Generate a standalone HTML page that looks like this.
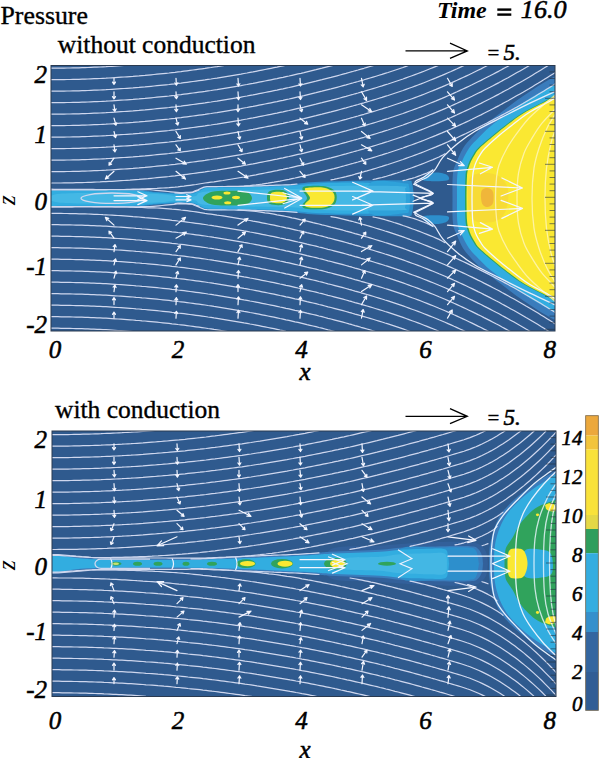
<!DOCTYPE html>
<html><head><meta charset="utf-8"><style>
html,body{margin:0;padding:0;background:#fff;width:600px;height:758px;overflow:hidden}
svg{display:block}
text{font-family:"Liberation Serif",serif;fill:#000}
</style></head><body>
<svg width="600" height="758" viewBox="0 0 600 758">
<text x="0.5" y="24.3" font-size="25.8" text-anchor="start" style=""  stroke="#000" stroke-width="0.35">Pressure</text>
<text x="57.8" y="53.4" font-size="25.5" text-anchor="start" style=""  stroke="#000" stroke-width="0.35">without conduction</text>
<text x="437" y="18.4" font-size="24" text-anchor="start" style="font-style:italic;font-weight:bold;" >Time</text>
<rect x="497.3" y="8.4" width="14" height="2.4" fill="#000"/><rect x="497.3" y="13.4" width="14" height="2.4" fill="#000"/>
<text x="520.8" y="18.4" font-size="26.2" text-anchor="start" style="font-style:italic;"  stroke="#000" stroke-width="0.55">16.0</text>
<clipPath id="c1"><rect x="51" y="65.5" width="504" height="265.5"/></clipPath>
<rect x="51" y="65.5" width="504" height="265.5" fill="#2f5a8e"/>
<g clip-path="url(#c1)">
<path d="M40 189.2C43.3 186.3 45 189.6 60 189.7C75 189.8 114.2 189.4 130 189.7C145.8 190 146.7 191.1 155 191.7C163.3 192.3 173.8 193 180 193.2C186.2 193.4 188.3 193.5 192 192.7C195.7 191.9 199 189.3 202 188.2C205 187.1 202 186.6 210 186.2C218 185.8 236.7 186 250 185.7C263.3 185.4 278.3 184.9 290 184.2C301.7 183.5 306.3 182.3 320 181.7C333.7 181.1 357.5 180.6 372 180.4C386.5 180.2 400.3 179.9 407 180.4C413.7 180.9 410.8 180.2 412 183.2C413.2 186.2 413.7 195.7 414 198.2C414.3 200.7 414.3 195.7 414 198.2C413.7 200.7 413.2 210.2 412 213.2C410.8 216.2 413.7 215.5 407 216C400.3 216.5 386.5 216.2 372 216C357.5 215.8 333.7 215.3 320 214.7C306.3 214.1 301.7 212.9 290 212.2C278.3 211.5 263.3 211 250 210.7C236.7 210.4 218 210.6 210 210.2C202 209.8 205 209.3 202 208.2C199 207.1 195.7 204.5 192 203.7C188.3 202.9 186.2 203 180 203.2C173.8 203.4 163.3 204.1 155 204.7C146.7 205.3 145.8 206.4 130 206.7C114.2 207 75 206.6 60 206.7C45 206.8 43.3 210.1 40 207.2C36.7 204.3 36.7 192.1 40 189.2Z" fill="#2d8fcc" />
<path d="M40 190.2C43.3 187.6 45 190.6 60 190.7C75 190.8 114.2 190.4 130 190.7C145.8 191 146.7 192.1 155 192.7C163.3 193.3 173.8 194.2 180 194.4C186.2 194.6 188.3 194.8 192 194C195.7 193.2 199 190.8 202 189.7C205 188.6 202 188.1 210 187.7C218 187.3 236.7 187.5 250 187.2C263.3 186.9 278.3 186.4 290 185.7C301.7 185 307.5 183.7 320 183.2C332.5 182.7 356.3 182.4 365 182.7C373.7 183 370.5 182.6 372 185.2C373.5 187.8 373.7 196 374 198.2C374.3 200.4 374.3 196 374 198.2C373.7 200.4 373.5 208.6 372 211.2C370.5 213.8 373.7 213.4 365 213.7C356.3 214 332.5 213.7 320 213.2C307.5 212.7 301.7 211.4 290 210.7C278.3 210 263.3 209.5 250 209.2C236.7 208.9 218 209.1 210 208.7C202 208.3 205 207.8 202 206.7C199 205.6 195.7 203.2 192 202.4C188.3 201.6 186.2 201.8 180 202C173.8 202.2 163.3 203.1 155 203.7C146.7 204.3 145.8 205.4 130 205.7C114.2 206 75 205.6 60 205.7C45 205.8 43.3 208.8 40 206.2C36.7 203.6 36.7 192.8 40 190.2Z" fill="#32ade0" />
<path d="M370 183.2C375.7 178.2 397.5 182.7 404 183.2C410.5 183.7 408 183.7 409 186.2C410 188.7 409.8 196.2 410 198.2C410.2 200.2 410.2 196.2 410 198.2C409.8 200.2 410 207.7 409 210.2C408 212.7 410.5 212.7 404 213.2C397.5 213.7 375.7 218.2 370 213.2C364.3 208.2 364.3 188.2 370 183.2Z" fill="#2ea2da" />
<path d="M60 193.7C75 192.2 130 193.2 150 193.7C170 194.2 172.5 196.3 180 196.7C187.5 197.1 190 197.1 195 196.2C200 195.3 192.5 192.4 210 191.2C227.5 189.9 280 189.5 300 188.7C320 187.9 313.3 186.6 330 186.2C346.7 185.8 387.5 185.7 400 186.2C412.5 186.7 404 187.2 405 189.2C406 191.2 405.8 196.7 406 198.2C406.2 199.7 406.2 196.7 406 198.2C405.8 199.7 406 205.2 405 207.2C404 209.2 412.5 209.7 400 210.2C387.5 210.7 346.7 210.6 330 210.2C313.3 209.8 320 208.5 300 207.7C280 206.9 227.5 206.4 210 205.2C192.5 203.9 200 201.1 195 200.2C190 199.3 187.5 199.3 180 199.7C172.5 200.1 170 202.2 150 202.7C130 203.2 75 204.2 60 202.7C45 201.2 45 195.2 60 193.7Z" fill="#5cc6ec" opacity="0.45"/>
<path d="M424 180.5C420.5 179.6 423.8 176.3 426 175C428.2 173.7 433.5 172.5 437 172.5C440.5 172.5 445.3 173.7 447 175C448.7 176.3 450.8 179.6 447 180.5C443.2 181.4 427.5 181.4 424 180.5Z" fill="#2d8fcc"/>
<path d="M424 215.9C420.5 216.8 423.8 220.1 426 221.4C428.2 222.7 433.5 223.9 437 223.9C440.5 223.9 445.3 222.7 447 221.4C448.7 220.1 450.8 216.8 447 215.9C443.2 215 427.5 215 424 215.9Z" fill="#2d8fcc"/>
<path d="M203 198.2C203 196.1 207.5 193 212 191.8C216.5 190.6 224.3 190.8 230 190.8C235.7 190.8 242.3 190.6 246 191.8C249.7 193 252 196.1 252 198.2C252 200.3 249.7 203.4 246 204.6C242.3 205.8 235.7 205.6 230 205.6C224.3 205.6 216.5 205.8 212 204.6C207.5 203.4 203 200.3 203 198.2Z" fill="#30a35c"/>
<ellipse cx="217" cy="197.5" rx="5.5" ry="2" fill="#fae832"/>
<ellipse cx="227" cy="193" rx="3.5" ry="1.5" fill="#fae832"/>
<ellipse cx="227.7" cy="202.7" rx="3.5" ry="1.5" fill="#fae832"/>
<ellipse cx="236" cy="197.5" rx="4" ry="1.7" fill="#fae832"/>
<path d="M267 197.5C267 195.3 267.2 192.2 270 191C272.8 189.8 280.8 189.4 284 190.5C287.2 191.6 289 195.2 289 197.5C289 199.8 287.2 203.4 284 204.5C280.8 205.6 272.8 205.2 270 204C267.2 202.8 267 199.7 267 197.5Z" fill="#30a35c"/>
<path d="M270 197.5C270 195.8 269.8 193.4 272 192.5C274.2 191.6 280.5 191.5 283 192.3C285.5 193.1 287 195.8 287 197.5C287 199.2 285.5 202 283 202.8C280.5 203.6 274.2 203.4 272 202.5C269.8 201.6 270 199.2 270 197.5Z" fill="#fae832"/>
<path d="M302.5 190C302.3 188.1 302.2 186.9 306 186.3C309.8 185.7 320.1 185.4 325 186.3C329.9 187.2 333.8 189.2 335.5 192C337.2 194.8 337.1 200.2 335.5 203C333.9 205.8 330.9 207.8 326 208.7C321.1 209.6 309.9 209.3 306 208.7C302.1 208.1 302.3 206.8 302.5 205C302.7 203.2 307 200.5 307 198C307 195.5 302.7 191.9 302.5 190Z" fill="#30a35c"/>
<path d="M305 190C304.7 188.3 304.8 188.2 308 187.8C311.2 187.4 319.8 186.9 324 187.8C328.2 188.7 331.9 190.6 333.5 193C335.1 195.4 334.9 199.6 333.5 202C332.1 204.4 329.2 206.4 325 207.3C320.8 208.2 311.3 207.9 308 207.3C304.7 206.8 304.7 205.6 305 204C305.3 202.4 310 200.3 310 198C310 195.7 305.3 191.7 305 190Z" fill="#fae832"/>
<path d="M600 73.2C594.3 73.2 574.7 72 566 73.2C557.3 74.4 555.7 76 548 80.2C540.3 84.4 528 92.7 520 98.2C512 103.7 506.2 108.4 500 113.2C493.8 117.9 487.7 122.7 483 126.7C478.3 130.7 475.3 133.6 472 137.2C468.7 140.8 465.5 144.2 463 148.2C460.5 152.2 458.7 157 457 161.2C455.3 165.4 453.8 167 453 173.2C452.2 179.4 452.5 189.9 452.5 198.2C452.5 206.5 452.2 217 453 223.2C453.8 229.4 455.3 231 457 235.2C458.7 239.4 460.5 244.2 463 248.2C465.5 252.2 468.7 255.6 472 259.2C475.3 262.8 478.3 265.7 483 269.7C487.7 273.7 493.8 278.4 500 283.2C506.2 287.9 512 292.7 520 298.2C528 303.7 540.3 312 548 316.2C555.7 320.4 557.3 322 566 323.2C574.7 324.4 594.3 323.2 600 323.2Z" fill="#3a7cbc" />
<path d="M600 78.2C594.3 78.2 573.8 77 566 78.2C558.2 79.4 559 81.9 553 85.2C547 88.5 537.5 93.5 530 98.2C522.5 102.9 514.7 108.4 508 113.2C501.3 117.9 494.8 122.7 490 126.7C485.2 130.7 482.5 133.6 479 137.2C475.5 140.8 471.8 144.2 469 148.2C466.2 152.2 463.9 157 462 161.2C460.1 165.4 458.3 167 457.5 173.2C456.7 179.4 457 189.9 457 198.2C457 206.5 456.7 217 457.5 223.2C458.3 229.4 460.1 231 462 235.2C463.9 239.4 466.2 244.2 469 248.2C471.8 252.2 475.5 255.6 479 259.2C482.5 262.8 485.2 265.7 490 269.7C494.8 273.7 501.3 278.4 508 283.2C514.7 287.9 522.5 293.5 530 298.2C537.5 302.9 547 307.9 553 311.2C559 314.5 558.2 317 566 318.2C573.8 319.4 594.3 318.2 600 318.2Z" fill="#32ade0" />
<path d="M600 90.2C594.3 90.2 573.6 89.4 566 90.2C558.4 91 557.8 93.5 554.5 95.2C551.2 96.9 551.9 97.2 546.5 100.2C541.1 103.2 529.2 108.8 522 113.2C514.8 117.6 508.8 122.7 503.5 126.7C498.2 130.7 494.8 133.6 490.5 137.2C486.2 140.8 480.8 145.4 478 148.2C475.2 151 474.9 152 473.5 154.2C472.1 156.4 470.6 158.9 469.5 161.2C468.4 163.5 467.7 165.7 467 168.2C466.3 170.7 465.8 171.2 465.5 176.2C465.2 181.2 465 190.9 465 198.2C465 205.5 465.2 215.2 465.5 220.2C465.8 225.2 466.3 225.7 467 228.2C467.7 230.7 468.4 232.9 469.5 235.2C470.6 237.5 472.1 240 473.5 242.2C474.9 244.4 475.2 245.4 478 248.2C480.8 251 486.2 255.6 490.5 259.2C494.8 262.8 498.2 265.7 503.5 269.7C508.8 273.7 514.8 278.8 522 283.2C529.2 287.6 541.1 293.2 546.5 296.2C551.9 299.2 551.2 299.5 554.5 301.2C557.8 302.9 558.4 305.4 566 306.2C573.6 307 594.3 306.2 600 306.2Z" fill="#30a35c" />
<path d="M600 90.2C594.3 90.2 573.3 89.4 566 90.2C558.7 91 559 93.5 556 95.2C553 96.9 553.4 97.2 548 100.2C542.6 103.2 530.7 108.8 523.5 113.2C516.3 117.6 510.2 122.7 505 126.7C499.8 130.7 496.2 133.6 492 137.2C487.8 140.8 482.3 145.4 479.5 148.2C476.7 151 476.4 152 475 154.2C473.6 156.4 472.1 158.9 471 161.2C469.9 163.5 469.2 165.7 468.5 168.2C467.8 170.7 467.3 171.2 467 176.2C466.7 181.2 466.5 190.9 466.5 198.2C466.5 205.5 466.7 215.2 467 220.2C467.3 225.2 467.8 225.7 468.5 228.2C469.2 230.7 469.9 232.9 471 235.2C472.1 237.5 473.6 240 475 242.2C476.4 244.4 476.7 245.4 479.5 248.2C482.3 251 487.8 255.6 492 259.2C496.2 262.8 499.8 265.7 505 269.7C510.2 273.7 516.3 278.8 523.5 283.2C530.7 287.6 542.6 293.2 548 296.2C553.4 299.2 553 299.5 556 301.2C559 302.9 558.7 305.4 566 306.2C573.3 307 594.3 306.2 600 306.2Z" fill="#fae832" />
<path d="M470 178C472.8 173.8 480 173.2 485 173C490 172.8 496.2 174.2 500 177C503.8 179.8 507 184.5 508 190C509 195.5 508 204.8 506 210C504 215.2 500.7 219 496 221C491.3 223 482.3 223 478 222C473.7 221 471.7 219 470 215C468.3 211 468 204.2 468 198C468 191.8 467.2 182.2 470 178Z" fill="#f4cf3a" opacity="0.55"/>
<path d="M482 190C483.2 188.3 486.2 187.7 488 188C489.8 188.3 492.2 189.5 493 192C493.8 194.5 493.8 200.5 493 203C492.2 205.5 489.7 206.7 488 207C486.3 207.3 484.2 206.5 483 205C481.8 203.5 481.2 200.5 481 198C480.8 195.5 480.8 191.7 482 190Z" fill="#eca63c" opacity="0.7"/>
<path d="M403 180.6L406 180L409 179.2L412 178.4L415 177.5L418 176.4L421 175.3L424 174.1L427 173L430 171.5L433 169.8M403 215.8L406 216.4L409 217.2L412 218L415 218.9L418 220L421 221.1L424 222.3L427 223.4L430 224.9L433 226.6M373 179.5L376 178.9L379 178.2L382 177.5L385 176.7L388 175.8L391 174.9L394 173.9L397 173L400 172L403 170.9L406 169.9L409 168.8L412 167.7L415 166.6L418 165.5L421 164.4L424 163.2L427 162L430 160.8L433 159.6L436 158.3L439 157L442 155.4L445 153.7M373 216.9L376 217.5L379 218.2L382 218.9L385 219.7L388 220.6L391 221.5L394 222.5L397 223.4L400 224.4L403 225.5L406 226.5L409 227.6L412 228.7L415 229.8L418 230.9L421 232L424 233.2L427 234.4L430 235.6L433 236.8L436 238.1L439 239.4L442 241L445 242.7M331 179.8L334 179.3L337 178.7L340 178L343 177.3L346 176.6L349 175.8L352 175.1L355 174.2L358 173.4L361 172.6L364 171.7L367 170.9L370 170L373 169.1L376 168.2L379 167.3L382 166.4L385 165.4L388 164.5L391 163.5L394 162.5L397 161.5L400 160.5L403 159.5L406 158.4L409 157.3L412 156.2L415 155.1L418 154L421 152.9L424 151.7L427 150.5L430 149.3L433 148.1L436 146.9L439 145.6L442 144.4L445 143.1L448 141.8L451 140.4L454 139.1L457 137.7L460 136.3L463 134.9L466 133.5L469 132L472 130.5L475 129L478 127.5L481 126L484 124.5L487 123L490 121.4L493 119.9L496 118.3L499 116.7L502 115.1L505 113.5L508 111.9L511 110.2L514 108.6L517 106.9L520 105.2L523 103.5L526 101.7L529 100L532 98.2L535 96.4L538 94.6L541 92.8L544 91L547 89.1L550 87.2L553 85.3L556 83.4M331 216.6L334 217.1L337 217.7L340 218.4L343 219.1L346 219.8L349 220.6L352 221.3L355 222.2L358 223L361 223.8L364 224.7L367 225.5L370 226.4L373 227.3L376 228.2L379 229.1L382 230L385 231L388 231.9L391 232.9L394 233.9L397 234.9L400 235.9L403 236.9L406 238L409 239.1L412 240.2L415 241.3L418 242.4L421 243.5L424 244.7L427 245.9L430 247.1L433 248.3L436 249.5L439 250.8L442 252L445 253.3L448 254.6L451 256L454 257.3L457 258.7L460 260.1L463 261.5L466 262.9L469 264.4L472 265.9L475 267.4L478 268.9L481 270.4L484 271.9L487 273.4L490 275L493 276.5L496 278.1L499 279.7L502 281.3L505 282.9L508 284.5L511 286.2L514 287.8L517 289.5L520 291.2L523 292.9L526 294.7L529 296.4L532 298.2L535 300L538 301.8L541 303.6L544 305.4L547 307.3L550 309.2L553 311.1L556 313M175 192.9L178 193.2L181 193.3L184 193.1L187 192.9L190 192.8L193 192.3L196 191.1L199 190M175 203.5L178 203.2L181 203.1L184 203.3L187 203.5L190 203.6L193 204.1L196 205.3L199 206.4M238 186.5L241 186.3L244 186.1L247 185.8L250 185.6L253 185.2L256 184.9L259 184.5L262 184.1L265 183.6L268 183.2L271 182.7L274 182.2L277 181.6L280 181.1L283 180.5L286 179.9L289 179.3L292 178.6L295 178L298 177.3L301 176.6L304 176L307 175.3L310 174.6L313 173.8L316 173.1L319 172.4L322 171.6L325 170.9L328 170.1L331 169.3L334 168.6L337 167.8L340 167L343 166.2L346 165.3L349 164.5L352 163.7L355 162.8L358 162L361 161.1L364 160.3L367 159.4L370 158.5L373 157.6L376 156.7L379 155.8L382 154.9L385 153.9L388 153L391 152L394 151L397 150L400 149L403 148L406 146.9L409 145.8L412 144.7L415 143.6L418 142.5L421 141.4L424 140.2L427 139L430 137.8L433 136.6L436 135.4L439 134.1L442 132.9L445 131.6L448 130.3L451 129L454 127.6L457 126.3L460 124.9L463 123.5L466 122.1L469 120.7L472 119.3L475 117.8L478 116.3L481 114.9L484 113.3L487 111.8L490 110.3L493 108.7L496 107.1L499 105.6L502 103.9L505 102.3L508 100.7L511 99L514 97.3L517 95.6L520 93.9L523 92.2L526 90.4L529 88.7L532 86.9L535 85.1L538 83.3L541 81.4L544 79.6L547 77.7L550 75.8L553 73.9L556 72M238 209.9L241 210.1L244 210.3L247 210.6L250 210.8L253 211.2L256 211.5L259 211.9L262 212.3L265 212.8L268 213.2L271 213.7L274 214.2L277 214.8L280 215.3L283 215.9L286 216.5L289 217.1L292 217.8L295 218.4L298 219.1L301 219.8L304 220.4L307 221.1L310 221.8L313 222.6L316 223.3L319 224L322 224.8L325 225.5L328 226.3L331 227.1L334 227.8L337 228.6L340 229.4L343 230.2L346 231.1L349 231.9L352 232.7L355 233.6L358 234.4L361 235.3L364 236.1L367 237L370 237.9L373 238.8L376 239.7L379 240.6L382 241.5L385 242.5L388 243.4L391 244.4L394 245.4L397 246.4L400 247.4L403 248.4L406 249.5L409 250.6L412 251.7L415 252.8L418 253.9L421 255L424 256.2L427 257.4L430 258.6L433 259.8L436 261L439 262.3L442 263.5L445 264.8L448 266.1L451 267.4L454 268.8L457 270.1L460 271.5L463 272.9L466 274.3L469 275.7L472 277.1L475 278.6L478 280.1L481 281.5L484 283.1L487 284.6L490 286.1L493 287.7L496 289.3L499 290.8L502 292.5L505 294.1L508 295.7L511 297.4L514 299.1L517 300.8L520 302.5L523 304.2L526 306L529 307.7L532 309.5L535 311.3L538 313.1L541 315L544 316.8L547 318.7L550 320.6L553 322.5L556 324.4M49 189.9L52 189.9L55 189.9L58 189.9L61 189.9L64 189.9L67 189.9L70 189.9L73 189.9L76 189.9L79 189.9L82 189.9L85 189.9L88 189.9L91 189.9L94 189.8L97 189.8L100 189.8L103 189.8L106 189.8L109 189.7L112 189.7L115 189.6L118 189.6L121 189.5L124 189.5L127 189.4L130 189.3L133 189.2L136 189.1L139 189L142 188.9L145 188.8L148 188.6L151 188.5L154 188.5L157 188.4L160 188.2L163 188L166 187.8L169 187.6L172 187.3L175 187.1L178 186.8L181 186.4L184 186.1L187 185.7L190 185.3L193 184.9L196 184.5L199 184L202 183.5L205 183L208 182.6L211 182.2L214 181.8L217 181.3L220 180.9L223 180.5L226 180L229 179.5L232 179L235 178.5L238 178L241 177.5L244 177L247 176.4L250 175.9L253 175.3L256 174.8L259 174.2L262 173.6L265 173L268 172.4L271 171.8L274 171.2L277 170.6L280 169.9L283 169.3L286 168.6L289 168L292 167.3L295 166.6L298 165.9L301 165.3L304 164.6L307 163.8L310 163.1L313 162.4L316 161.7L319 160.9L322 160.2L325 159.4L328 158.6L331 157.9L334 157.1L337 156.3L340 155.5L343 154.7L346 153.9L349 153L352 152.2L355 151.3L358 150.5L361 149.6L364 148.8L367 147.9L370 147L373 146.1L376 145.2L379 144.3L382 143.4L385 142.4L388 141.5L391 140.5L394 139.5L397 138.5L400 137.5L403 136.5L406 135.4L409 134.3L412 133.2L415 132.1L418 131L421 129.9L424 128.7L427 127.5L430 126.3L433 125.1L436 123.9L439 122.6L442 121.4L445 120.1L448 118.8L451 117.5L454 116.1L457 114.8L460 113.4L463 112L466 110.6L469 109.2L472 107.8L475 106.3L478 104.8L481 103.4L484 101.8L487 100.3L490 98.8L493 97.2L496 95.6L499 94.1L502 92.4L505 90.8L508 89.2L511 87.5L514 85.8L517 84.1L520 82.4L523 80.7L526 78.9L529 77.2L532 75.4L535 73.6L538 71.8L541 69.9L544 68.1L547 66.2L550 64.3L553 62.4M49 206.5L52 206.5L55 206.5L58 206.5L61 206.5L64 206.5L67 206.5L70 206.5L73 206.5L76 206.5L79 206.5L82 206.5L85 206.5L88 206.5L91 206.5L94 206.6L97 206.6L100 206.6L103 206.6L106 206.6L109 206.7L112 206.7L115 206.8L118 206.8L121 206.9L124 206.9L127 207L130 207.1L133 207.2L136 207.3L139 207.4L142 207.5L145 207.6L148 207.8L151 207.9L154 207.9L157 208L160 208.2L163 208.4L166 208.6L169 208.8L172 209.1L175 209.3L178 209.6L181 210L184 210.3L187 210.7L190 211.1L193 211.5L196 211.9L199 212.4L202 212.9L205 213.4L208 213.8L211 214.2L214 214.6L217 215.1L220 215.5L223 215.9L226 216.4L229 216.9L232 217.4L235 217.9L238 218.4L241 218.9L244 219.4L247 220L250 220.5L253 221.1L256 221.6L259 222.2L262 222.8L265 223.4L268 224L271 224.6L274 225.2L277 225.8L280 226.5L283 227.1L286 227.8L289 228.4L292 229.1L295 229.8L298 230.5L301 231.1L304 231.8L307 232.6L310 233.3L313 234L316 234.7L319 235.5L322 236.2L325 237L328 237.8L331 238.5L334 239.3L337 240.1L340 240.9L343 241.7L346 242.5L349 243.4L352 244.2L355 245.1L358 245.9L361 246.8L364 247.6L367 248.5L370 249.4L373 250.3L376 251.2L379 252.1L382 253L385 254L388 254.9L391 255.9L394 256.9L397 257.9L400 258.9L403 259.9L406 261L409 262.1L412 263.2L415 264.3L418 265.4L421 266.5L424 267.7L427 268.9L430 270.1L433 271.3L436 272.5L439 273.8L442 275L445 276.3L448 277.6L451 278.9L454 280.3L457 281.6L460 283L463 284.4L466 285.8L469 287.2L472 288.6L475 290.1L478 291.6L481 293L484 294.6L487 296.1L490 297.6L493 299.2L496 300.8L499 302.3L502 304L505 305.6L508 307.2L511 308.9L514 310.6L517 312.3L520 314L523 315.7L526 317.5L529 319.2L532 321L535 322.8L538 324.6L541 326.5L544 328.3L547 330.2L550 332.1L553 334M49 183.1L52 183L55 183L58 183L61 183L64 182.9L67 182.9L70 182.8L73 182.8L76 182.7L79 182.6L82 182.6L85 182.5L88 182.4L91 182.3L94 182.1L97 182L100 181.9L103 181.7L106 181.6L109 181.4L112 181.3L115 181.1L118 180.9L121 180.7L124 180.5L127 180.3L130 180.1L133 179.8L136 179.6L139 179.4L142 179.1L145 178.8L148 178.6L151 178.3L154 178L157 177.7L160 177.4L163 177.1L166 176.8L169 176.5L172 176.1L175 175.8L178 175.4L181 175.1L184 174.7L187 174.3L190 173.9L193 173.5L196 173.1L199 172.7L202 172.3L205 171.9L208 171.4L211 171L214 170.5L217 170.1L220 169.6L223 169.1L226 168.6L229 168.1L232 167.6L235 167.1L238 166.6L241 166.1L244 165.5L247 165L250 164.4L253 163.9L256 163.3L259 162.7L262 162.1L265 161.5L268 160.9L271 160.3L274 159.7L277 159.1L280 158.4L283 157.8L286 157.1L289 156.5L292 155.8L295 155.1L298 154.4L301 153.8L304 153.1L307 152.3L310 151.6L313 150.9L316 150.2L319 149.4L322 148.7L325 147.9L328 147.1L331 146.4L334 145.6L337 144.8L340 144L343 143.2L346 142.4L349 141.5L352 140.7L355 139.8L358 139L361 138.1L364 137.3L367 136.4L370 135.5L373 134.6L376 133.7L379 132.8L382 131.9L385 130.9L388 130L391 129L394 128L397 127L400 126L403 125L406 123.9L409 122.8L412 121.7L415 120.6L418 119.5L421 118.4L424 117.2L427 116L430 114.8L433 113.6L436 112.4L439 111.1L442 109.9L445 108.6L448 107.3L451 106L454 104.6L457 103.3L460 101.9L463 100.5L466 99.1L469 97.7L472 96.3L475 94.8L478 93.3L481 91.9L484 90.3L487 88.8L490 87.3L493 85.7L496 84.1L499 82.6L502 80.9L505 79.3L508 77.7L511 76L514 74.3L517 72.6L520 70.9L523 69.2L526 67.4L529 65.7L532 63.9L535 62.1M49 213.3L52 213.4L55 213.4L58 213.4L61 213.4L64 213.5L67 213.5L70 213.6L73 213.6L76 213.7L79 213.8L82 213.8L85 213.9L88 214L91 214.1L94 214.3L97 214.4L100 214.5L103 214.7L106 214.8L109 215L112 215.1L115 215.3L118 215.5L121 215.7L124 215.9L127 216.1L130 216.3L133 216.6L136 216.8L139 217L142 217.3L145 217.6L148 217.8L151 218.1L154 218.4L157 218.7L160 219L163 219.3L166 219.6L169 219.9L172 220.3L175 220.6L178 221L181 221.3L184 221.7L187 222.1L190 222.5L193 222.9L196 223.3L199 223.7L202 224.1L205 224.5L208 225L211 225.4L214 225.9L217 226.3L220 226.8L223 227.3L226 227.8L229 228.3L232 228.8L235 229.3L238 229.8L241 230.3L244 230.9L247 231.4L250 232L253 232.5L256 233.1L259 233.7L262 234.3L265 234.9L268 235.5L271 236.1L274 236.7L277 237.3L280 238L283 238.6L286 239.3L289 239.9L292 240.6L295 241.3L298 242L301 242.6L304 243.3L307 244.1L310 244.8L313 245.5L316 246.2L319 247L322 247.7L325 248.5L328 249.3L331 250L334 250.8L337 251.6L340 252.4L343 253.2L346 254L349 254.9L352 255.7L355 256.6L358 257.4L361 258.3L364 259.1L367 260L370 260.9L373 261.8L376 262.7L379 263.6L382 264.5L385 265.5L388 266.4L391 267.4L394 268.4L397 269.4L400 270.4L403 271.4L406 272.5L409 273.6L412 274.7L415 275.8L418 276.9L421 278L424 279.2L427 280.4L430 281.6L433 282.8L436 284L439 285.3L442 286.5L445 287.8L448 289.1L451 290.4L454 291.8L457 293.1L460 294.5L463 295.9L466 297.3L469 298.7L472 300.1L475 301.6L478 303.1L481 304.5L484 306.1L487 307.6L490 309.1L493 310.7L496 312.3L499 313.8L502 315.5L505 317.1L508 318.7L511 320.4L514 322.1L517 323.8L520 325.5L523 327.2L526 329L529 330.7L532 332.5L535 334.3M49 171.7L52 171.7L55 171.7L58 171.7L61 171.6L64 171.6L67 171.5L70 171.5L73 171.4L76 171.3L79 171.3L82 171.2L85 171.1L88 171L91 170.8L94 170.7L97 170.6L100 170.5L103 170.3L106 170.2L109 170L112 169.8L115 169.6L118 169.4L121 169.2L124 169L127 168.8L130 168.6L133 168.4L136 168.1L139 167.9L142 167.6L145 167.4L148 167.1L151 166.8L154 166.5L157 166.2L160 165.9L163 165.6L166 165.3L169 165L172 164.6L175 164.3L178 163.9L181 163.6L184 163.2L187 162.8L190 162.4L193 162L196 161.6L199 161.2L202 160.8L205 160.4L208 159.9L211 159.5L214 159L217 158.6L220 158.1L223 157.6L226 157.1L229 156.6L232 156.1L235 155.6L238 155.1L241 154.6L244 154L247 153.5L250 152.9L253 152.4L256 151.8L259 151.2L262 150.6L265 150L268 149.4L271 148.8L274 148.2L277 147.6L280 146.9L283 146.3L286 145.6L289 145L292 144.3L295 143.6L298 142.9L301 142.3L304 141.6L307 140.8L310 140.1L313 139.4L316 138.7L319 137.9L322 137.2L325 136.4L328 135.6L331 134.9L334 134.1L337 133.3L340 132.5L343 131.7L346 130.9L349 130L352 129.2L355 128.3L358 127.5L361 126.6L364 125.8L367 124.9L370 124L373 123.1L376 122.2L379 121.3L382 120.4L385 119.4L388 118.5L391 117.5L394 116.5L397 115.5L400 114.5L403 113.5L406 112.4L409 111.3L412 110.2L415 109.1L418 108L421 106.9L424 105.7L427 104.5L430 103.3L433 102.1L436 100.9L439 99.6L442 98.4L445 97.1L448 95.8L451 94.5L454 93.1L457 91.8L460 90.4L463 89L466 87.6L469 86.2L472 84.8L475 83.3L478 81.8L481 80.4L484 78.8L487 77.3L490 75.8L493 74.2L496 72.6L499 71.1L502 69.4L505 67.8L508 66.2L511 64.5L514 62.8M49 224.7L52 224.7L55 224.7L58 224.7L61 224.8L64 224.8L67 224.9L70 224.9L73 225L76 225.1L79 225.1L82 225.2L85 225.3L88 225.4L91 225.6L94 225.7L97 225.8L100 225.9L103 226.1L106 226.2L109 226.4L112 226.6L115 226.8L118 227L121 227.2L124 227.4L127 227.6L130 227.8L133 228L136 228.3L139 228.5L142 228.8L145 229L148 229.3L151 229.6L154 229.9L157 230.2L160 230.5L163 230.8L166 231.1L169 231.4L172 231.8L175 232.1L178 232.5L181 232.8L184 233.2L187 233.6L190 234L193 234.4L196 234.8L199 235.2L202 235.6L205 236L208 236.5L211 236.9L214 237.4L217 237.8L220 238.3L223 238.8L226 239.3L229 239.8L232 240.3L235 240.8L238 241.3L241 241.8L244 242.4L247 242.9L250 243.5L253 244L256 244.6L259 245.2L262 245.8L265 246.4L268 247L271 247.6L274 248.2L277 248.8L280 249.5L283 250.1L286 250.8L289 251.4L292 252.1L295 252.8L298 253.5L301 254.1L304 254.8L307 255.6L310 256.3L313 257L316 257.7L319 258.5L322 259.2L325 260L328 260.8L331 261.5L334 262.3L337 263.1L340 263.9L343 264.7L346 265.5L349 266.4L352 267.2L355 268.1L358 268.9L361 269.8L364 270.6L367 271.5L370 272.4L373 273.3L376 274.2L379 275.1L382 276L385 277L388 277.9L391 278.9L394 279.9L397 280.9L400 281.9L403 282.9L406 284L409 285.1L412 286.2L415 287.3L418 288.4L421 289.5L424 290.7L427 291.9L430 293.1L433 294.3L436 295.5L439 296.8L442 298L445 299.3L448 300.6L451 301.9L454 303.3L457 304.6L460 306L463 307.4L466 308.8L469 310.2L472 311.6L475 313.1L478 314.6L481 316L484 317.6L487 319.1L490 320.6L493 322.2L496 323.8L499 325.3L502 327L505 328.6L508 330.2L511 331.9L514 333.6M49 160.2L52 160.2L55 160.2L58 160.2L61 160.1L64 160.1L67 160L70 160L73 159.9L76 159.8L79 159.8L82 159.7L85 159.6L88 159.5L91 159.3L94 159.2L97 159.1L100 159L103 158.8L106 158.7L109 158.5L112 158.3L115 158.1L118 157.9L121 157.7L124 157.5L127 157.3L130 157.1L133 156.9L136 156.6L139 156.4L142 156.1L145 155.9L148 155.6L151 155.3L154 155L157 154.7L160 154.4L163 154.1L166 153.8L169 153.5L172 153.1L175 152.8L178 152.4L181 152.1L184 151.7L187 151.3L190 150.9L193 150.5L196 150.1L199 149.7L202 149.3L205 148.9L208 148.4L211 148L214 147.5L217 147.1L220 146.6L223 146.1L226 145.6L229 145.1L232 144.6L235 144.1L238 143.6L241 143.1L244 142.5L247 142L250 141.4L253 140.9L256 140.3L259 139.7L262 139.1L265 138.5L268 137.9L271 137.3L274 136.7L277 136.1L280 135.4L283 134.8L286 134.1L289 133.5L292 132.8L295 132.1L298 131.4L301 130.8L304 130.1L307 129.3L310 128.6L313 127.9L316 127.2L319 126.4L322 125.7L325 124.9L328 124.1L331 123.4L334 122.6L337 121.8L340 121L343 120.2L346 119.4L349 118.5L352 117.7L355 116.8L358 116L361 115.1L364 114.3L367 113.4L370 112.5L373 111.6L376 110.7L379 109.8L382 108.9L385 107.9L388 107L391 106L394 105L397 104L400 103L403 102L406 100.9L409 99.8L412 98.7L415 97.6L418 96.5L421 95.4L424 94.2L427 93L430 91.8L433 90.6L436 89.4L439 88.1L442 86.9L445 85.6L448 84.3L451 83L454 81.6L457 80.3L460 78.9L463 77.5L466 76.1L469 74.7L472 73.3L475 71.8L478 70.3L481 68.9L484 67.3L487 65.8L490 64.3L493 62.7M49 236.2L52 236.2L55 236.2L58 236.2L61 236.3L64 236.3L67 236.4L70 236.4L73 236.5L76 236.6L79 236.6L82 236.7L85 236.8L88 236.9L91 237.1L94 237.2L97 237.3L100 237.4L103 237.6L106 237.7L109 237.9L112 238.1L115 238.3L118 238.5L121 238.7L124 238.9L127 239.1L130 239.3L133 239.5L136 239.8L139 240L142 240.3L145 240.5L148 240.8L151 241.1L154 241.4L157 241.7L160 242L163 242.3L166 242.6L169 242.9L172 243.3L175 243.6L178 244L181 244.3L184 244.7L187 245.1L190 245.5L193 245.9L196 246.3L199 246.7L202 247.1L205 247.5L208 248L211 248.4L214 248.9L217 249.3L220 249.8L223 250.3L226 250.8L229 251.3L232 251.8L235 252.3L238 252.8L241 253.3L244 253.9L247 254.4L250 255L253 255.5L256 256.1L259 256.7L262 257.3L265 257.9L268 258.5L271 259.1L274 259.7L277 260.3L280 261L283 261.6L286 262.3L289 262.9L292 263.6L295 264.3L298 265L301 265.6L304 266.3L307 267.1L310 267.8L313 268.5L316 269.2L319 270L322 270.7L325 271.5L328 272.3L331 273L334 273.8L337 274.6L340 275.4L343 276.2L346 277L349 277.9L352 278.7L355 279.6L358 280.4L361 281.3L364 282.1L367 283L370 283.9L373 284.8L376 285.7L379 286.6L382 287.5L385 288.5L388 289.4L391 290.4L394 291.4L397 292.4L400 293.4L403 294.4L406 295.5L409 296.6L412 297.7L415 298.8L418 299.9L421 301L424 302.2L427 303.4L430 304.6L433 305.8L436 307L439 308.3L442 309.5L445 310.8L448 312.1L451 313.4L454 314.8L457 316.1L460 317.5L463 318.9L466 320.3L469 321.7L472 323.1L475 324.6L478 326.1L481 327.5L484 329.1L487 330.6L490 332.1L493 333.7M49 148.7L52 148.7L55 148.7L58 148.7L61 148.6L64 148.6L67 148.5L70 148.5L73 148.4L76 148.3L79 148.3L82 148.2L85 148.1L88 148L91 147.8L94 147.7L97 147.6L100 147.5L103 147.3L106 147.2L109 147L112 146.8L115 146.6L118 146.4L121 146.2L124 146L127 145.8L130 145.6L133 145.4L136 145.1L139 144.9L142 144.6L145 144.4L148 144.1L151 143.8L154 143.5L157 143.2L160 142.9L163 142.6L166 142.3L169 142L172 141.6L175 141.3L178 140.9L181 140.6L184 140.2L187 139.8L190 139.4L193 139L196 138.6L199 138.2L202 137.8L205 137.4L208 136.9L211 136.5L214 136L217 135.6L220 135.1L223 134.6L226 134.1L229 133.6L232 133.1L235 132.6L238 132.1L241 131.6L244 131L247 130.5L250 129.9L253 129.4L256 128.8L259 128.2L262 127.6L265 127L268 126.4L271 125.8L274 125.2L277 124.6L280 123.9L283 123.3L286 122.6L289 122L292 121.3L295 120.6L298 119.9L301 119.3L304 118.6L307 117.8L310 117.1L313 116.4L316 115.7L319 114.9L322 114.2L325 113.4L328 112.6L331 111.9L334 111.1L337 110.3L340 109.5L343 108.7L346 107.9L349 107L352 106.2L355 105.3L358 104.5L361 103.6L364 102.8L367 101.9L370 101L373 100.1L376 99.2L379 98.3L382 97.4L385 96.4L388 95.5L391 94.5L394 93.5L397 92.5L400 91.5L403 90.5L406 89.4L409 88.3L412 87.2L415 86.1L418 85L421 83.9L424 82.7L427 81.5L430 80.3L433 79.1L436 77.9L439 76.6L442 75.4L445 74.1L448 72.8L451 71.5L454 70.1L457 68.8L460 67.4L463 66L466 64.6L469 63.2L472 61.8M49 247.7L52 247.7L55 247.7L58 247.7L61 247.8L64 247.8L67 247.9L70 247.9L73 248L76 248.1L79 248.1L82 248.2L85 248.3L88 248.4L91 248.6L94 248.7L97 248.8L100 248.9L103 249.1L106 249.2L109 249.4L112 249.6L115 249.8L118 250L121 250.2L124 250.4L127 250.6L130 250.8L133 251L136 251.3L139 251.5L142 251.8L145 252L148 252.3L151 252.6L154 252.9L157 253.2L160 253.5L163 253.8L166 254.1L169 254.4L172 254.8L175 255.1L178 255.5L181 255.8L184 256.2L187 256.6L190 257L193 257.4L196 257.8L199 258.2L202 258.6L205 259L208 259.5L211 259.9L214 260.4L217 260.8L220 261.3L223 261.8L226 262.3L229 262.8L232 263.3L235 263.8L238 264.3L241 264.8L244 265.4L247 265.9L250 266.5L253 267L256 267.6L259 268.2L262 268.8L265 269.4L268 270L271 270.6L274 271.2L277 271.8L280 272.5L283 273.1L286 273.8L289 274.4L292 275.1L295 275.8L298 276.5L301 277.1L304 277.8L307 278.6L310 279.3L313 280L316 280.7L319 281.5L322 282.2L325 283L328 283.8L331 284.5L334 285.3L337 286.1L340 286.9L343 287.7L346 288.5L349 289.4L352 290.2L355 291.1L358 291.9L361 292.8L364 293.6L367 294.5L370 295.4L373 296.3L376 297.2L379 298.1L382 299L385 300L388 300.9L391 301.9L394 302.9L397 303.9L400 304.9L403 305.9L406 307L409 308.1L412 309.2L415 310.3L418 311.4L421 312.5L424 313.7L427 314.9L430 316.1L433 317.3L436 318.5L439 319.8L442 321L445 322.3L448 323.6L451 324.9L454 326.3L457 327.6L460 329L463 330.4L466 331.8L469 333.2L472 334.6M49 137.2L52 137.2L55 137.2L58 137.2L61 137.1L64 137.1L67 137L70 137L73 136.9L76 136.8L79 136.8L82 136.7L85 136.6L88 136.5L91 136.3L94 136.2L97 136.1L100 136L103 135.8L106 135.7L109 135.5L112 135.3L115 135.1L118 134.9L121 134.7L124 134.5L127 134.3L130 134.1L133 133.9L136 133.6L139 133.4L142 133.1L145 132.9L148 132.6L151 132.3L154 132L157 131.7L160 131.4L163 131.1L166 130.8L169 130.5L172 130.1L175 129.8L178 129.4L181 129.1L184 128.7L187 128.3L190 127.9L193 127.5L196 127.1L199 126.7L202 126.3L205 125.9L208 125.4L211 125L214 124.5L217 124.1L220 123.6L223 123.1L226 122.6L229 122.1L232 121.6L235 121.1L238 120.6L241 120.1L244 119.5L247 119L250 118.4L253 117.9L256 117.3L259 116.7L262 116.1L265 115.5L268 114.9L271 114.3L274 113.7L277 113.1L280 112.4L283 111.8L286 111.1L289 110.5L292 109.8L295 109.1L298 108.4L301 107.8L304 107.1L307 106.3L310 105.6L313 104.9L316 104.2L319 103.4L322 102.7L325 101.9L328 101.1L331 100.4L334 99.6L337 98.8L340 98L343 97.2L346 96.4L349 95.5L352 94.7L355 93.8L358 93L361 92.1L364 91.3L367 90.4L370 89.5L373 88.6L376 87.7L379 86.8L382 85.9L385 84.9L388 84L391 83L394 82L397 81L400 80L403 79L406 77.9L409 76.8L412 75.7L415 74.6L418 73.5L421 72.4L424 71.2L427 70L430 68.8L433 67.6L436 66.4L439 65.1L442 63.9L445 62.6M49 259.2L52 259.2L55 259.2L58 259.2L61 259.3L64 259.3L67 259.4L70 259.4L73 259.5L76 259.6L79 259.6L82 259.7L85 259.8L88 259.9L91 260.1L94 260.2L97 260.3L100 260.4L103 260.6L106 260.7L109 260.9L112 261.1L115 261.3L118 261.5L121 261.7L124 261.9L127 262.1L130 262.3L133 262.5L136 262.8L139 263L142 263.3L145 263.5L148 263.8L151 264.1L154 264.4L157 264.7L160 265L163 265.3L166 265.6L169 265.9L172 266.3L175 266.6L178 267L181 267.3L184 267.7L187 268.1L190 268.5L193 268.9L196 269.3L199 269.7L202 270.1L205 270.5L208 271L211 271.4L214 271.9L217 272.3L220 272.8L223 273.3L226 273.8L229 274.3L232 274.8L235 275.3L238 275.8L241 276.3L244 276.9L247 277.4L250 278L253 278.5L256 279.1L259 279.7L262 280.3L265 280.9L268 281.5L271 282.1L274 282.7L277 283.3L280 284L283 284.6L286 285.3L289 285.9L292 286.6L295 287.3L298 288L301 288.6L304 289.3L307 290.1L310 290.8L313 291.5L316 292.2L319 293L322 293.7L325 294.5L328 295.3L331 296L334 296.8L337 297.6L340 298.4L343 299.2L346 300L349 300.9L352 301.7L355 302.6L358 303.4L361 304.3L364 305.1L367 306L370 306.9L373 307.8L376 308.7L379 309.6L382 310.5L385 311.5L388 312.4L391 313.4L394 314.4L397 315.4L400 316.4L403 317.4L406 318.5L409 319.6L412 320.7L415 321.8L418 322.9L421 324L424 325.2L427 326.4L430 327.6L433 328.8L436 330L439 331.3L442 332.5L445 333.8M49 125.7L52 125.7L55 125.7L58 125.7L61 125.6L64 125.6L67 125.5L70 125.5L73 125.4L76 125.3L79 125.3L82 125.2L85 125.1L88 125L91 124.8L94 124.7L97 124.6L100 124.5L103 124.3L106 124.2L109 124L112 123.8L115 123.6L118 123.4L121 123.2L124 123L127 122.8L130 122.6L133 122.4L136 122.1L139 121.9L142 121.6L145 121.4L148 121.1L151 120.8L154 120.5L157 120.2L160 119.9L163 119.6L166 119.3L169 119L172 118.6L175 118.3L178 117.9L181 117.6L184 117.2L187 116.8L190 116.4L193 116L196 115.6L199 115.2L202 114.8L205 114.4L208 113.9L211 113.5L214 113L217 112.6L220 112.1L223 111.6L226 111.1L229 110.6L232 110.1L235 109.6L238 109.1L241 108.6L244 108L247 107.5L250 106.9L253 106.4L256 105.8L259 105.2L262 104.6L265 104L268 103.4L271 102.8L274 102.2L277 101.6L280 100.9L283 100.3L286 99.6L289 99L292 98.3L295 97.6L298 96.9L301 96.3L304 95.6L307 94.8L310 94.1L313 93.4L316 92.7L319 91.9L322 91.2L325 90.4L328 89.6L331 88.9L334 88.1L337 87.3L340 86.5L343 85.7L346 84.9L349 84L352 83.2L355 82.3L358 81.5L361 80.6L364 79.8L367 78.9L370 78L373 77.1L376 76.2L379 75.3L382 74.4L385 73.4L388 72.5L391 71.5L394 70.5L397 69.5L400 68.5L403 67.5L406 66.4L409 65.3L412 64.2L415 63.1L418 62M49 270.7L52 270.7L55 270.7L58 270.7L61 270.8L64 270.8L67 270.9L70 270.9L73 271L76 271.1L79 271.1L82 271.2L85 271.3L88 271.4L91 271.6L94 271.7L97 271.8L100 271.9L103 272.1L106 272.2L109 272.4L112 272.6L115 272.8L118 273L121 273.2L124 273.4L127 273.6L130 273.8L133 274L136 274.3L139 274.5L142 274.8L145 275L148 275.3L151 275.6L154 275.9L157 276.2L160 276.5L163 276.8L166 277.1L169 277.4L172 277.8L175 278.1L178 278.5L181 278.8L184 279.2L187 279.6L190 280L193 280.4L196 280.8L199 281.2L202 281.6L205 282L208 282.5L211 282.9L214 283.4L217 283.8L220 284.3L223 284.8L226 285.3L229 285.8L232 286.3L235 286.8L238 287.3L241 287.8L244 288.4L247 288.9L250 289.5L253 290L256 290.6L259 291.2L262 291.8L265 292.4L268 293L271 293.6L274 294.2L277 294.8L280 295.5L283 296.1L286 296.8L289 297.4L292 298.1L295 298.8L298 299.4L301 300.1L304 300.8L307 301.6L310 302.3L313 303L316 303.7L319 304.5L322 305.2L325 306L328 306.8L331 307.5L334 308.3L337 309.1L340 309.9L343 310.7L346 311.5L349 312.4L352 313.2L355 314.1L358 314.9L361 315.8L364 316.6L367 317.5L370 318.4L373 319.3L376 320.2L379 321.1L382 322L385 323L388 323.9L391 324.9L394 325.9L397 326.9L400 327.9L403 328.9L406 330L409 331.1L412 332.2L415 333.3L418 334.4M49 114.2L52 114.2L55 114.2L58 114.2L61 114.1L64 114.1L67 114L70 114L73 113.9L76 113.8L79 113.8L82 113.7L85 113.6L88 113.5L91 113.3L94 113.2L97 113.1L100 113L103 112.8L106 112.7L109 112.5L112 112.3L115 112.1L118 111.9L121 111.7L124 111.5L127 111.3L130 111.1L133 110.9L136 110.6L139 110.4L142 110.1L145 109.9L148 109.6L151 109.3L154 109L157 108.7L160 108.4L163 108.1L166 107.8L169 107.5L172 107.1L175 106.8L178 106.4L181 106.1L184 105.7L187 105.3L190 104.9L193 104.5L196 104.1L199 103.7L202 103.3L205 102.9L208 102.4L211 102L214 101.5L217 101.1L220 100.6L223 100.1L226 99.6L229 99.1L232 98.6L235 98.1L238 97.6L241 97.1L244 96.5L247 96L250 95.4L253 94.9L256 94.3L259 93.7L262 93.1L265 92.5L268 91.9L271 91.3L274 90.7L277 90.1L280 89.4L283 88.8L286 88.1L289 87.5L292 86.8L295 86.1L298 85.4L301 84.8L304 84.1L307 83.3L310 82.6L313 81.9L316 81.2L319 80.4L322 79.7L325 78.9L328 78.1L331 77.4L334 76.6L337 75.8L340 75L343 74.2L346 73.4L349 72.5L352 71.7L355 70.8L358 70L361 69.1L364 68.3L367 67.4L370 66.5L373 65.6L376 64.7L379 63.8L382 62.9L385 61.9M49 282.2L52 282.2L55 282.2L58 282.2L61 282.3L64 282.3L67 282.4L70 282.4L73 282.5L76 282.6L79 282.6L82 282.7L85 282.8L88 282.9L91 283.1L94 283.2L97 283.3L100 283.4L103 283.6L106 283.7L109 283.9L112 284.1L115 284.3L118 284.5L121 284.7L124 284.9L127 285.1L130 285.3L133 285.5L136 285.8L139 286L142 286.3L145 286.5L148 286.8L151 287.1L154 287.4L157 287.7L160 288L163 288.3L166 288.6L169 288.9L172 289.3L175 289.6L178 290L181 290.3L184 290.7L187 291.1L190 291.5L193 291.9L196 292.3L199 292.7L202 293.1L205 293.5L208 294L211 294.4L214 294.9L217 295.3L220 295.8L223 296.3L226 296.8L229 297.3L232 297.8L235 298.3L238 298.8L241 299.3L244 299.9L247 300.4L250 301L253 301.5L256 302.1L259 302.7L262 303.3L265 303.9L268 304.5L271 305.1L274 305.7L277 306.3L280 307L283 307.6L286 308.3L289 308.9L292 309.6L295 310.3L298 310.9L301 311.6L304 312.3L307 313.1L310 313.8L313 314.5L316 315.2L319 316L322 316.7L325 317.5L328 318.3L331 319L334 319.8L337 320.6L340 321.4L343 322.2L346 323L349 323.9L352 324.7L355 325.6L358 326.4L361 327.3L364 328.1L367 329L370 329.9L373 330.8L376 331.7L379 332.6L382 333.5L385 334.5M49 102.7L52 102.7L55 102.7L58 102.7L61 102.6L64 102.6L67 102.5L70 102.5L73 102.4L76 102.3L79 102.3L82 102.2L85 102.1L88 102L91 101.8L94 101.7L97 101.6L100 101.5L103 101.3L106 101.2L109 101L112 100.8L115 100.6L118 100.4L121 100.2L124 100L127 99.8L130 99.6L133 99.4L136 99.1L139 98.9L142 98.6L145 98.4L148 98.1L151 97.8L154 97.5L157 97.2L160 96.9L163 96.6L166 96.3L169 96L172 95.6L175 95.3L178 94.9L181 94.6L184 94.2L187 93.8L190 93.4L193 93L196 92.6L199 92.2L202 91.8L205 91.4L208 90.9L211 90.5L214 90L217 89.6L220 89.1L223 88.6L226 88.1L229 87.6L232 87.1L235 86.6L238 86.1L241 85.6L244 85L247 84.5L250 83.9L253 83.4L256 82.8L259 82.2L262 81.6L265 81L268 80.4L271 79.8L274 79.2L277 78.6L280 77.9L283 77.3L286 76.6L289 76L292 75.3L295 74.6L298 73.9L301 73.3L304 72.6L307 71.8L310 71.1L313 70.4L316 69.7L319 68.9L322 68.2L325 67.4L328 66.6L331 65.9L334 65.1L337 64.3L340 63.5L343 62.7L346 61.9M49 293.7L52 293.7L55 293.7L58 293.7L61 293.8L64 293.8L67 293.9L70 293.9L73 294L76 294.1L79 294.1L82 294.2L85 294.3L88 294.4L91 294.6L94 294.7L97 294.8L100 294.9L103 295.1L106 295.2L109 295.4L112 295.6L115 295.8L118 296L121 296.2L124 296.4L127 296.6L130 296.8L133 297L136 297.3L139 297.5L142 297.8L145 298L148 298.3L151 298.6L154 298.9L157 299.2L160 299.5L163 299.8L166 300.1L169 300.4L172 300.8L175 301.1L178 301.5L181 301.8L184 302.2L187 302.6L190 303L193 303.4L196 303.8L199 304.2L202 304.6L205 305L208 305.5L211 305.9L214 306.4L217 306.8L220 307.3L223 307.8L226 308.3L229 308.8L232 309.3L235 309.8L238 310.3L241 310.8L244 311.4L247 311.9L250 312.5L253 313L256 313.6L259 314.2L262 314.8L265 315.4L268 316L271 316.6L274 317.2L277 317.8L280 318.5L283 319.1L286 319.8L289 320.4L292 321.1L295 321.8L298 322.4L301 323.1L304 323.8L307 324.6L310 325.3L313 326L316 326.7L319 327.5L322 328.2L325 329L328 329.8L331 330.5L334 331.3L337 332.1L340 332.9L343 333.7L346 334.5M49 91.2L52 91.2L55 91.2L58 91.2L61 91.1L64 91.1L67 91L70 91L73 90.9L76 90.8L79 90.8L82 90.7L85 90.6L88 90.5L91 90.3L94 90.2L97 90.1L100 90L103 89.8L106 89.7L109 89.5L112 89.3L115 89.1L118 88.9L121 88.7L124 88.5L127 88.3L130 88.1L133 87.9L136 87.6L139 87.4L142 87.1L145 86.9L148 86.6L151 86.3L154 86L157 85.7L160 85.4L163 85.1L166 84.8L169 84.5L172 84.1L175 83.8L178 83.4L181 83.1L184 82.7L187 82.3L190 81.9L193 81.5L196 81.1L199 80.7L202 80.3L205 79.9L208 79.4L211 79L214 78.5L217 78.1L220 77.6L223 77.1L226 76.6L229 76.1L232 75.6L235 75.1L238 74.6L241 74.1L244 73.5L247 73L250 72.4L253 71.9L256 71.3L259 70.7L262 70.1L265 69.5L268 68.9L271 68.3L274 67.7L277 67.1L280 66.4L283 65.8L286 65.1L289 64.5L292 63.8L295 63.1L298 62.4L301 61.8M49 305.2L52 305.2L55 305.2L58 305.2L61 305.3L64 305.3L67 305.4L70 305.4L73 305.5L76 305.6L79 305.6L82 305.7L85 305.8L88 305.9L91 306.1L94 306.2L97 306.3L100 306.4L103 306.6L106 306.7L109 306.9L112 307.1L115 307.3L118 307.5L121 307.7L124 307.9L127 308.1L130 308.3L133 308.5L136 308.8L139 309L142 309.3L145 309.5L148 309.8L151 310.1L154 310.4L157 310.7L160 311L163 311.3L166 311.6L169 311.9L172 312.3L175 312.6L178 313L181 313.3L184 313.7L187 314.1L190 314.5L193 314.9L196 315.3L199 315.7L202 316.1L205 316.5L208 317L211 317.4L214 317.9L217 318.3L220 318.8L223 319.3L226 319.8L229 320.3L232 320.8L235 321.3L238 321.8L241 322.3L244 322.9L247 323.4L250 324L253 324.5L256 325.1L259 325.7L262 326.3L265 326.9L268 327.5L271 328.1L274 328.7L277 329.3L280 330L283 330.6L286 331.3L289 331.9L292 332.6L295 333.3L298 334L301 334.6M49 79.7L52 79.7L55 79.7L58 79.7L61 79.6L64 79.6L67 79.5L70 79.5L73 79.4L76 79.3L79 79.3L82 79.2L85 79.1L88 79L91 78.8L94 78.7L97 78.6L100 78.5L103 78.3L106 78.2L109 78L112 77.8L115 77.6L118 77.4L121 77.2L124 77L127 76.8L130 76.6L133 76.4L136 76.1L139 75.9L142 75.6L145 75.4L148 75.1L151 74.8L154 74.5L157 74.2L160 73.9L163 73.6L166 73.3L169 73L172 72.6L175 72.3L178 71.9L181 71.6L184 71.2L187 70.8L190 70.4L193 70L196 69.6L199 69.2L202 68.8L205 68.4L208 67.9L211 67.5L214 67L217 66.6L220 66.1L223 65.6L226 65.1L229 64.6L232 64.1L235 63.6L238 63.1L241 62.6L244 62M49 316.7L52 316.7L55 316.7L58 316.7L61 316.8L64 316.8L67 316.9L70 316.9L73 317L76 317.1L79 317.1L82 317.2L85 317.3L88 317.4L91 317.6L94 317.7L97 317.8L100 317.9L103 318.1L106 318.2L109 318.4L112 318.6L115 318.8L118 319L121 319.2L124 319.4L127 319.6L130 319.8L133 320L136 320.3L139 320.5L142 320.8L145 321L148 321.3L151 321.6L154 321.9L157 322.2L160 322.5L163 322.8L166 323.1L169 323.4L172 323.8L175 324.1L178 324.5L181 324.8L184 325.2L187 325.6L190 326L193 326.4L196 326.8L199 327.2L202 327.6L205 328L208 328.5L211 328.9L214 329.4L217 329.8L220 330.3L223 330.8L226 331.3L229 331.8L232 332.3L235 332.8L238 333.3L241 333.8L244 334.4M49 68.2L52 68.2L55 68.2L58 68.2L61 68.1L64 68.1L67 68L70 68L73 67.9L76 67.8L79 67.8L82 67.7L85 67.6L88 67.5L91 67.3L94 67.2L97 67.1L100 67L103 66.8L106 66.7L109 66.5L112 66.3L115 66.1L118 65.9L121 65.7L124 65.5L127 65.3L130 65.1L133 64.9L136 64.6L139 64.4L142 64.1L145 63.9L148 63.6L151 63.3L154 63L157 62.7L160 62.4L163 62.1L166 61.8M49 328.2L52 328.2L55 328.2L58 328.2L61 328.3L64 328.3L67 328.4L70 328.4L73 328.5L76 328.6L79 328.6L82 328.7L85 328.8L88 328.9L91 329.1L94 329.2L97 329.3L100 329.4L103 329.6L106 329.7L109 329.9L112 330.1L115 330.3L118 330.5L121 330.7L124 330.9L127 331.1L130 331.3L133 331.5L136 331.8L139 332L142 332.3L145 332.5L148 332.8L151 333.1L154 333.4L157 333.7L160 334L163 334.3L166 334.6" stroke="#cfd7ee" stroke-width="1.2" fill="none" stroke-linejoin="round" stroke-linecap="round" opacity="1.0"/>
<path d="M51 189.2L54 189.3L57 189.3L60 189.3L63 189.3L66 189.3L69 189.3L72 189.3L75 189.4L78 189.4L81 189.4L84 189.4L87 189.4L90 189.4L93 189.4L96 189.5L99 189.5L102 189.5L105 189.5L108 189.5L111 189.5L114 189.5L117 189.5L120 189.6L123 189.6L126 189.6L129 189.6L132 189.6L135 189.6L138 189.6L141 189.7L144 189.7L147 189.7L150 189.7L153 190L156 190.3L159 190.6L162 190.9L165 191.2L168 191.5L171 191.8L174 192.1L177 192.4L180 192.7L183 192.6L186 192.4L189 192.3L192 192.2L195 190.9L198 189.7L201 188.4L204 187.1L207 186.7L210 186.6L213 186.6L216 186.6L219 186.5L222 186.5L225 186.5L228 186.4L231 186.4L234 186.4L237 186.3L240 186.3L243 186.3L246 186.2L249 186.2L252 186.1L255 186L258 185.9L261 185.8L264 185.7L267 185.6L270 185.4L273 185.3L276 185.2L279 185.1L282 185L285 184.9L288 184.8L291 184.6L294 184.3L297 184M51 207.1L54 207.1L57 207.1L60 207.1L63 207.1L66 207.1L69 207.1L72 207.1L75 207L78 207L81 207L84 207L87 207L90 207L93 207L96 206.9L99 206.9L102 206.9L105 206.9L108 206.9L111 206.9L114 206.9L117 206.8L120 206.8L123 206.8L126 206.8L129 206.8L132 206.8L135 206.8L138 206.8L141 206.7L144 206.7L147 206.7L150 206.7L153 206.4L156 206.1L159 205.8L162 205.5L165 205.2L168 204.9L171 204.6L174 204.3L177 204L180 203.7L183 203.8L186 203.9L189 204.1L192 204.2L195 205.5L198 206.7L201 208L204 209.3L207 209.7L210 209.8L213 209.8L216 209.8L219 209.9L222 209.9L225 209.9L228 210L231 210L234 210L237 210.1L240 210.1L243 210.1L246 210.2L249 210.2L252 210.3L255 210.4L258 210.5L261 210.6L264 210.7L267 210.8L270 210.9L273 211.1L276 211.2L279 211.3L282 211.4L285 211.5L288 211.6L291 211.8L294 212.1L297 212.4" stroke="#cfd7ee" stroke-width="1.2" fill="none" stroke-linejoin="round" stroke-linecap="round" opacity="1.0"/>
<ellipse cx="112" cy="198.2" rx="31" ry="5.2" stroke="#cfd7ee" stroke-width="1.3" fill="none"/>
<path d="M414 184.2C415 183.6 417.7 181.9 420 180.7C422.3 179.4 425.5 178.5 428 176.7C430.5 174.9 432.5 172.9 435 169.7C437.5 166.4 439.2 161.6 443 157.2C446.8 152.8 452.7 147.5 458 143.2C463.3 138.9 468 135.4 475 131.2C482 127 490.8 122.9 500 118.2C509.2 113.5 520.3 107.9 530 103.2C539.7 98.5 553.3 92.4 558 90.2M414 212.2C415 212.8 417.7 214.4 420 215.7C422.3 216.9 425.5 217.9 428 219.7C430.5 221.5 432.5 223.4 435 226.7C437.5 229.9 439.2 234.8 443 239.2C446.8 243.6 452.7 248.9 458 253.2C463.3 257.5 468 261 475 265.2C482 269.4 490.8 273.5 500 278.2C509.2 282.9 520.3 288.5 530 293.2C539.7 297.9 553.3 304 558 306.2" stroke="#e6ecfa" stroke-width="1.3" fill="none"/>
<path d="M433 170C431.5 171.2 427 174.8 424 177C421 179.2 413.5 180.6 415 183.3C416.5 186 432.2 190.8 433 193.3C433.8 195.8 420 196.6 420 198.2C420 199.8 433.8 200.6 433 203.1C432.2 205.6 416.5 210.4 415 213.1C413.5 215.8 421 217.2 424 219.4C427 221.6 431.5 225.2 433 226.4" stroke="#eef2ff" stroke-width="1.2" fill="none"/>
<path d="M556 97.2C554.7 98 552.7 99.5 548 102.2C543.3 104.9 534.3 109.1 528 113.2C521.7 117.3 515.2 122.7 510 126.7C504.8 130.7 501.2 133.6 497 137.2C492.8 140.8 487.8 145.4 485 148.2C482.2 151 481.9 152 480.5 154.2C479.1 156.4 477.6 158.9 476.5 161.2C475.4 163.5 474.7 165.4 474 168.2C473.3 171 472.8 173.2 472.5 178.2C472.2 183.2 472 191.5 472 198.2C472 204.9 472.2 213.2 472.5 218.2C472.8 223.2 473.3 225.4 474 228.2C474.7 231 475.4 232.9 476.5 235.2C477.6 237.5 479.1 240 480.5 242.2C481.9 244.4 482.2 245.4 485 248.2C487.8 251 492.8 255.6 497 259.2C501.2 262.8 504.8 265.7 510 269.7C515.2 273.7 521.7 279.1 528 283.2C534.3 287.3 543.3 291.5 548 294.2C552.7 296.9 554.7 298.4 556 299.2" stroke="#f4f8ff" stroke-width="1.3" fill="none" opacity="1"/>
<path d="M556 94.2C553.7 96.2 546.7 102 542 106.2C537.3 110.4 532.2 114.7 528 119.2C523.8 123.7 520.5 128.4 517 133.2C513.5 138 510 142.9 507 148.2C504 153.5 500.8 160.2 499 165.2C497.2 170.2 497.1 172.7 496.5 178.2C495.9 183.7 495.5 191.5 495.5 198.2C495.5 204.9 495.9 212.7 496.5 218.2C497.1 223.7 497.2 226.2 499 231.2C500.8 236.2 504 242.9 507 248.2C510 253.5 513.5 258.4 517 263.2C520.5 268 523.8 272.7 528 277.2C532.2 281.7 537.3 286 542 290.2C546.7 294.4 553.7 300.2 556 302.2" stroke="#fff8d0" stroke-width="1.3" fill="none" opacity="0.7"/>
<path d="M556 108.2C553.7 110.7 546 118.2 542 123.2C538 128.2 535 133.2 532 138.2C529 143.2 526.2 147.4 524 153.2C521.8 159 519.7 165.7 518.5 173.2C517.3 180.7 517 189.9 517 198.2C517 206.5 517.3 215.7 518.5 223.2C519.7 230.7 521.8 237.4 524 243.2C526.2 249 529 253.2 532 258.2C535 263.2 538 268.2 542 273.2C546 278.2 553.7 285.7 556 288.2" stroke="#fff8d0" stroke-width="1.3" fill="none" opacity="0.7"/>
<path d="M556 113.2C554.5 115.7 549.8 122.4 547 128.2C544.2 134 541.2 141.5 539 148.2C536.8 154.9 535.2 159.9 534 168.2C532.8 176.5 532 188.2 532 198.2C532 208.2 532.8 219.9 534 228.2C535.2 236.5 536.8 241.5 539 248.2C541.2 254.9 544.2 262.4 547 268.2C549.8 274 554.5 280.7 556 283.2" stroke="#fff8d0" stroke-width="1.3" fill="none" opacity="0.7"/>
<path d="M556 128.2C555.2 130.7 552.6 136.5 551 143.2C549.4 149.9 547.5 159 546.5 168.2C545.5 177.4 545 188.2 545 198.2C545 208.2 545.5 219 546.5 228.2C547.5 237.4 549.4 246.5 551 253.2C552.6 259.9 555.2 265.7 556 268.2" stroke="#fff8d0" stroke-width="1.3" fill="none" opacity="0.7"/>
<path d="M114 78.3L114 84.3M112.5 82.1L114 84.3L115.5 82.1M114 318.1L114 312.1M115.5 314.3L114 312.1L112.5 314.3M114 91.8L114 98.8M112.5 96.6L114 98.8L115.5 96.6M114 304.6L114 297.6M115.5 299.8L114 297.6L112.5 299.8M114 104.8L114.9 111.3M113.1 109.3L114.9 111.3L116.1 108.9M114 291.6L114.9 285.1M116.1 287.5L114.9 285.1L113.1 287.1M114 118.2L116 125.2M114 123.5L116 125.2L116.8 122.7M114 278.2L116 271.2M116.8 273.7L116 271.2L114 272.9M114 131.5L115.6 137.5M113.6 135.8L115.6 137.5L116.5 135M114 264.9L115.6 258.9M116.5 261.4L115.6 258.9L113.6 260.6M114 144.8L115 151.8M113.2 149.8L115 151.8L116.2 149.4M114 251.6L115 244.6M116.2 247L115 244.6L113.2 246.6M114 158.2L109 165.2M109.2 162.4L109 165.2L111.6 164.1M114 238.2L109 231.2M111.6 232.3L109 231.2L109.2 234M114 171.3L105.4 179M106.8 175.7L105.4 179L108.8 178M114 225.1L105.4 217.4M108.8 218.4L105.4 217.4L106.8 220.7M176 78.3L176.4 85.1M174.8 83L176.4 85.1L177.8 82.8M176 318.1L176.4 311.3M177.8 313.6L176.4 311.3L174.8 313.4M176 91.8L176.4 98.7M174.8 96.6L176.4 98.7L177.8 96.4M176 304.6L176.4 297.7M177.8 300L176.4 297.7L174.8 299.8M176 104.8L176.4 111.6M174.8 109.5L176.4 111.6L177.8 109.3M176 291.6L176.4 284.8M177.8 287.1L176.4 284.8L174.8 286.9M176 118.2L177.8 125M175.8 123.3L177.8 125L178.7 122.5M176 278.2L177.8 271.4M178.7 273.9L177.8 271.4L175.8 273.1M176 131.5L180.3 138.4M177.8 137.3L180.3 138.4L180.4 135.7M176 264.9L180.3 258M180.4 260.7L180.3 258L177.8 259.1M176 144.8L180.3 150.8M177.8 149.9L180.3 150.8L180.2 148.1M176 251.6L180.3 245.6M180.2 248.3L180.3 245.6L177.8 246.5M176 158.2L186.3 164.2M182.7 163.8L186.3 164.2L184.2 161.2M176 238.2L186.3 232.2M184.2 235.2L186.3 232.2L182.7 232.6M176 171.3L185.5 179M181.9 178L185.5 179L183.8 175.7M176 225.1L185.5 217.4M183.8 220.7L185.5 217.4L181.9 218.4M238 78.3L238.5 86M236.9 83.9L238.5 86L239.9 83.7M238 318.1L238.5 310.4M239.9 312.7L238.5 310.4L236.9 312.5M238 91.8L238.5 99.6M236.9 97.5L238.5 99.6L239.9 97.3M238 304.6L238.5 296.8M239.9 299.1L238.5 296.8L236.9 298.9M238 104.8L238 111.7M236.5 109.5L238 111.7L239.5 109.5M238 291.6L238 284.7M239.5 286.9L238 284.7L236.5 286.9M238 118.2L238.5 125.9M236.9 123.8L238.5 125.9L239.9 123.6M238 278.2L238.5 270.5M239.9 272.8L238.5 270.5L236.9 272.6M238 131.5L239.7 139.3M237.8 137.4L239.7 139.3L240.7 136.8M238 264.9L239.7 257.1M240.7 259.6L239.7 257.1L237.8 259M238 144.8L242 151.6M239.6 150.5L242 151.6L242.2 148.9M238 251.6L242 244.8M242.2 247.5L242 244.8L239.6 245.9M238 158.2L245.4 164.2M242.4 163.7L245.4 164.2L244.3 161.4M238 238.2L245.4 232.2M244.3 235L245.4 232.2L242.4 232.7M238 171.3L248 178.1M244.4 177.4L248 178.1L246 175M238 225.1L248 218.3M246 221.4L248 218.3L244.4 219M300 78.3L300.5 86M298.9 83.9L300.5 86L301.9 83.7M300 318.1L300.5 310.4M301.9 312.7L300.5 310.4L298.9 312.5M300 91.8L300.5 99.5M298.9 97.4L300.5 99.5L301.9 97.2M300 304.6L300.5 296.9M301.9 299.2L300.5 296.9L298.9 299M300 104.8L301.7 111.7M299.7 109.9L301.7 111.7L302.6 109.2M300 291.6L301.7 284.7M302.6 287.2L301.7 284.7L299.7 286.5M300 118.2L307.7 124.2M304.6 123.7L307.7 124.2L306.5 121.3M300 278.2L307.7 272.2M306.5 275.1L307.7 272.2L304.6 272.7M300 131.5L301.7 139.2M299.8 137.4L301.7 139.2L302.7 136.7M300 264.9L301.7 257.2M302.7 259.7L301.7 257.2L299.8 259M300 144.8L301.7 151.7M299.7 149.9L301.7 151.7L302.6 149.2M300 251.6L301.7 244.7M302.6 247.2L301.7 244.7L299.7 246.5M300 158.2L303.4 165.1M301.1 163.8L303.4 165.1L303.8 162.5M300 238.2L303.4 231.3M303.8 233.9L303.4 231.3L301.1 232.6M300 171.3L305.1 177.3M302.5 176.6L305.1 177.3L304.8 174.6M300 225.1L305.1 219.1M304.8 221.8L305.1 219.1L302.5 219.8M361.5 78.3L363.2 86.9M361.3 84.8L363.2 86.9L364.2 84.2M361.5 318.1L363.2 309.5M364.2 312.2L363.2 309.5L361.3 311.6M361.5 91.8L366.6 100.4M363.9 98.8L366.6 100.4L366.5 97.2M361.5 304.6L366.6 296M366.5 299.2L366.6 296L363.9 297.6M361.5 104.8L371.8 111.7M368.1 111L371.8 111.7L369.8 108.5M361.5 291.6L371.8 284.7M369.8 287.9L371.8 284.7L368.1 285.4M361.5 118.2L364.9 125.9M362.6 124.3L364.9 125.9L365.3 123.1M361.5 278.2L364.9 270.5M365.3 273.3L364.9 270.5L362.6 272.1M361.5 131.5L370.1 138.4M366.8 137.6L370.1 138.4L368.6 135.3M361.5 264.9L370.1 258M368.6 261.1L370.1 258L366.8 258.8M361.5 144.8L371.8 150.8M368.2 150.4L371.8 150.8L369.7 147.8M361.5 251.6L371.8 245.6M369.7 248.6L371.8 245.6L368.2 246M361.5 158.2L365.8 164.2M363.3 163.3L365.8 164.2L365.7 161.5M361.5 238.2L365.8 232.2M365.7 234.9L365.8 232.2L363.3 233.1M361.5 171.3L359.8 179M358.8 176.5L359.8 179L361.7 177.2M361.5 225.1L359.8 217.4M361.7 219.2L359.8 217.4L358.8 219.9M447.5 78.3L452.2 86.4M449.6 84.9L452.2 86.4L452.2 83.4M447.5 318.1L452.2 310M452.2 313L452.2 310L449.6 311.5M447.5 91.8L454.5 100M451.4 98.7L454.5 100L453.7 96.7M447.5 304.6L454.5 296.4M453.7 299.7L454.5 296.4L451.4 297.7M447.5 104.8L454.5 113M451.4 111.7L454.5 113L453.7 109.7M447.5 291.6L454.5 283.4M453.7 286.7L454.5 283.4L451.4 284.7M447.5 118.2L455.7 126.4M452.3 125.2L455.7 126.4L454.5 123M447.5 278.2L455.7 270M454.5 273.4L455.7 270L452.3 271.2M447.5 131.5L455.7 140.8M452.3 139.2L455.7 140.8L454.5 137.2M447.5 264.9L455.7 255.6M454.5 259.2L455.7 255.6L452.3 257.2M447.5 144.8L455.7 155.3M452.1 153.3L455.7 155.3L454.7 151.4M447.5 251.6L455.7 241.1M454.7 245L455.7 241.1L452.1 243.1M447.5 158.2L464.2 165.7M458.6 165.6L464.2 165.7L460.4 161.6M447.5 238.2L464.2 230.7M460.4 234.8L464.2 230.7L458.6 230.8M447.5 171.3L492.5 167.3M480.4 173.8L492.5 167.3L479.4 163M447.5 225.1L492.5 229.1M479.4 233.4L492.5 229.1L480.4 222.6M114 195.8L147 195.8M137.8 199.8L147 195.8L137.8 191.8M114 200.6L147 200.6M137.8 204.6L147 200.6L137.8 196.6M176 196.5L191 196.5M186.8 198.3L191 196.5L186.8 194.7M176 199.9L191 199.9M186.8 201.7L191 199.9L186.8 198.1M238 191.1L301.7 198M283 203.7L301.7 198L284.7 188.4M238 205.3L301.7 198.4M284.7 208L301.7 198.4L283 192.7M300 191.1L373 191.1M352.6 199.9L373 191.1L352.6 182.3M300 205.3L373 205.3M352.6 214.1L373 205.3L352.6 196.5M362 191.3L433.3 193.3M413.1 201.3L433.3 193.3L413.6 184.2M362 205.1L433.3 203.1M413.6 212.2L433.3 203.1L413.1 195.1M447.5 184.5L522.5 188M501.1 196L522.5 188L501.9 178M447.5 211.9L522.5 208.4M501.9 218.4L522.5 208.4L501.1 200.4" stroke="#f4f6ff" stroke-width="1.2" fill="none" stroke-linejoin="round" stroke-linecap="round"/>
</g>
<path d="M555 71.9h-5.5M555 78.5h-5.5M555 85.1h-5.5M555 91.7h-5.5M555 98.3h-10M555 104.9h-5.5M555 111.5h-5.5M555 118.1h-5.5M555 124.7h-5.5M555 131.3h-10M555 137.9h-5.5M555 144.5h-5.5M555 151.1h-5.5M555 157.7h-5.5M555 164.3h-10M555 170.9h-5.5M555 177.5h-5.5M555 184.1h-5.5M555 190.7h-5.5M555 197.3h-10M555 203.9h-5.5M555 210.5h-5.5M555 217.1h-5.5M555 223.7h-5.5M555 230.3h-10M555 236.9h-5.5M555 243.5h-5.5M555 250.1h-5.5M555 256.7h-5.5M555 263.3h-10M555 269.9h-5.5M555 276.5h-5.5M555 283.1h-5.5M555 289.7h-5.5M555 296.3h-10M555 302.9h-5.5M555 309.5h-5.5M555 316.1h-5.5M555 322.7h-5.5M555 329.3h-10" stroke="#23303e" stroke-width="1" opacity="0.6"/>
<rect x="51" y="65.5" width="504" height="265.5" fill="none" stroke="#2a3a50" stroke-width="1"/>
<clipPath id="c2"><rect x="52" y="431" width="504" height="265.5"/></clipPath>
<rect x="52" y="431" width="504" height="265.5" fill="#2f5a8e"/>
<g clip-path="url(#c2)">
<path d="M330 549.7C338.3 544.4 365 546.9 380 545.7C395 544.5 406.7 543.4 420 542.7C433.3 542 450.3 541.5 460 541.7C469.7 541.9 473.7 542 478 543.7C482.3 545.4 484.3 548.4 486 551.7C487.7 555 487.7 561.7 488 563.7C488.3 565.7 488.3 561.7 488 563.7C487.7 565.7 487.7 572.4 486 575.7C484.3 579 482.3 582 478 583.7C473.7 585.4 469.7 585.5 460 585.7C450.3 585.9 433.3 585.4 420 584.7C406.7 584 395 582.9 380 581.7C365 580.5 338.3 583 330 577.7C321.7 572.4 321.7 555 330 549.7Z" fill="#33609a" />
<path d="M40 554.2C43.3 551.1 50.8 554 60 554.7C69.2 555.4 71.7 557.7 95 558.4C118.3 559.1 165.8 559.4 200 558.7C234.2 558 278.3 555.4 300 554.2C321.7 553 316.7 552.5 330 551.7C343.3 551 368.3 550.4 380 549.7C391.7 549 390 548.3 400 547.7C410 547.1 428.3 546.5 440 546.2C451.7 546 463.7 545.8 470 546.2C476.3 546.6 476 547.1 478 548.7C480 550.3 481.2 553.2 482 555.7C482.8 558.2 482.8 562.4 483 563.7C483.2 565 483.2 562.4 483 563.7C482.8 565 482.8 569.2 482 571.7C481.2 574.2 480 577.1 478 578.7C476 580.3 476.3 580.8 470 581.2C463.7 581.6 451.7 581.5 440 581.2C428.3 581 410 580.3 400 579.7C390 579.1 391.7 578.4 380 577.7C368.3 577 343.3 576.5 330 575.7C316.7 575 321.7 574.4 300 573.2C278.3 572 234.2 569.4 200 568.7C165.8 568 118.3 568.3 95 569C71.7 569.7 69.2 572 60 572.7C50.8 573.4 43.3 576.3 40 573.2C36.7 570.1 36.7 557.3 40 554.2Z" fill="#3a7cbc" />
<path d="M400 549.2C406.7 544.1 428.7 547.8 440 547.5C451.3 547.2 462 547 468 547.5C474 548 474.2 548 476 550.7C477.8 553.4 478.5 561.5 479 563.7C479.5 565.9 479.5 561.5 479 563.7C478.5 565.9 477.8 574 476 576.7C474.2 579.4 474 579.4 468 579.9C462 580.4 451.3 580.2 440 579.9C428.7 579.6 406.7 583.3 400 578.2C393.3 573.1 393.3 554.3 400 549.2Z" fill="#2d8fcc" />
<path d="M40 555.2C43.3 552.5 50.8 555 60 555.7C69.2 556.4 71.7 558.6 95 559.3C118.3 560 165.8 560.3 200 559.7C234.2 559.1 278.3 556.7 300 555.7C321.7 554.7 316.7 554.4 330 553.7C343.3 553 368.3 552.4 380 551.7C391.7 551 391.7 550.2 400 549.7C408.3 549.2 422.5 548.8 430 548.7C437.5 548.6 442 548 445 549.2C448 550.4 447.3 553.3 448 555.7C448.7 558.1 448.8 562.4 449 563.7C449.2 565 449.2 562.4 449 563.7C448.8 565 448.7 569.3 448 571.7C447.3 574.1 448 577 445 578.2C442 579.4 437.5 578.8 430 578.7C422.5 578.6 408.3 578.2 400 577.7C391.7 577.2 391.7 576.4 380 575.7C368.3 575 343.3 574.4 330 573.7C316.7 573 321.7 572.7 300 571.7C278.3 570.7 234.2 568.3 200 567.7C165.8 567.1 118.3 567.4 95 568.1C71.7 568.8 69.2 571 60 571.7C50.8 572.4 43.3 575 40 572.2C36.7 569.5 36.7 558 40 555.2Z" fill="#32ade0" />
<path d="M340 558.7C346.7 556.7 370 557.5 380 556.7C390 556 391.7 554.8 400 554.2C408.3 553.6 422.5 553.3 430 553.2C437.5 553.1 442.2 552 445 553.7C447.8 555.5 446.7 562 447 563.7C447.3 565.4 447.3 562 447 563.7C446.7 565.4 447.8 572 445 573.7C442.2 575.5 437.5 574.3 430 574.2C422.5 574.1 408.3 573.8 400 573.2C391.7 572.6 390 571.5 380 570.7C370 570 346.7 570.7 340 568.7C333.3 566.7 333.3 560.7 340 558.7Z" fill="#5cc6ec" opacity="0.4"/>
<ellipse cx="116" cy="563.7" rx="5.5" ry="2" fill="#30a35c"/>
<ellipse cx="137.5" cy="563.7" rx="4.5" ry="2" fill="#30a35c"/>
<ellipse cx="158" cy="563.7" rx="4.5" ry="2" fill="#30a35c"/>
<ellipse cx="186" cy="563.7" rx="3.5" ry="2" fill="#30a35c"/>
<ellipse cx="212" cy="563.7" rx="5" ry="2" fill="#30a35c"/>
<ellipse cx="387" cy="563.7" rx="9" ry="2" fill="#30a35c"/>
<ellipse cx="116" cy="563.7" rx="3" ry="1.2" fill="#c8e070"/>
<path d="M110.5 558.2Q113.5 563.7 110.5 569.2M172 558.2Q175 563.7 172 569.2" stroke="#eef2ff" stroke-width="1.2" fill="none"/>
<ellipse cx="246" cy="563.7" rx="9.5" ry="4.4" fill="#30a35c"/><ellipse cx="247.5" cy="563.7" rx="7.5" ry="2.6" fill="#fae832"/>
<ellipse cx="282" cy="563.7" rx="11" ry="4.8" fill="#30a35c"/><ellipse cx="285" cy="563.7" rx="7.5" ry="3" fill="#fae832"/>
<ellipse cx="335.5" cy="563.7" rx="11.5" ry="5.8" fill="#30a35c"/><ellipse cx="337.5" cy="563.7" rx="7.5" ry="4" fill="#fae832"/>
<path d="M235.5 557.2Q238.5 563.7 235.5 570.2" stroke="#eef2ff" stroke-width="1.2" fill="none"/>
<path d="M600 463.7C594.3 463.7 573.3 462.5 566 463.7C558.7 464.9 560 468.2 556 470.7C552 473.2 547 475.5 542 478.7C537 481.9 531 485.9 526 489.7C521 493.5 516 497.9 512 501.7C508 505.5 504.7 509 502 512.7C499.3 516.4 497.7 519.9 496 523.7C494.3 527.5 493.1 531.5 492 535.7C490.9 539.9 490 544 489.5 548.7C489 553.4 489 558.7 489 563.7C489 568.7 489 574 489.5 578.7C490 583.4 490.9 587.5 492 591.7C493.1 595.9 494.3 599.9 496 603.7C497.7 607.5 499.3 611 502 614.7C504.7 618.4 508 621.9 512 625.7C516 629.5 521 633.9 526 637.7C531 641.5 537 645.5 542 648.7C547 651.9 552 654.2 556 656.7C560 659.2 558.7 662.5 566 663.7C573.3 664.9 594.3 663.7 600 663.7Z" fill="#3a7cbc" />
<path d="M600 465.7C594.7 465.7 574.7 464.7 568 465.7C561.3 466.7 563.2 469.5 560 471.7C556.8 473.9 553.7 475.7 549 478.7C544.3 481.7 537.2 485.9 532 489.7C526.8 493.5 522 497.9 518 501.7C514 505.5 510.8 509 508 512.7C505.2 516.4 503.3 519.9 501.5 523.7C499.7 527.5 498.2 531.5 497 535.7C495.8 539.9 495 544 494.5 548.7C494 553.4 494 558.7 494 563.7C494 568.7 494 574 494.5 578.7C495 583.4 495.8 587.5 497 591.7C498.2 595.9 499.7 599.9 501.5 603.7C503.3 607.5 505.2 611 508 614.7C510.8 618.4 514 621.9 518 625.7C522 629.5 526.8 633.9 532 637.7C537.2 641.5 544.3 645.7 549 648.7C553.7 651.7 556.8 653.5 560 655.7C563.2 657.9 561.3 660.7 568 661.7C574.7 662.7 594.7 661.7 600 661.7Z" fill="#32ade0" />
<path d="M600 493.7C595 493.7 576.3 493 570 493.7C563.7 494.4 565.3 496.4 562 497.7C558.7 499 554 500.2 550 501.7C546 503.2 541.5 504.7 538 506.7C534.5 508.7 532.1 510.7 529 513.7C525.9 516.7 522.2 520.7 519.5 524.7C516.8 528.7 514.7 534 512.5 537.7C510.3 541.4 507.8 544 506.5 546.7C505.2 549.4 505.3 550.9 505 553.7C504.7 556.5 504.5 560.4 504.5 563.7C504.5 567 504.7 570.9 505 573.7C505.3 576.5 505.2 578 506.5 580.7C507.8 583.4 510.3 586 512.5 589.7C514.7 593.4 516.8 598.7 519.5 602.7C522.2 606.7 525.9 610.7 529 613.7C532.1 616.7 534.5 618.7 538 620.7C541.5 622.7 546 624.2 550 625.7C554 627.2 558.7 628.4 562 629.7C565.3 631 563.7 633 570 633.7C576.3 634.4 595 633.7 600 633.7Z" fill="#30a35c" />
<path d="M525 550.5C528 548.1 535.7 548.9 540 549.5C544.3 550.1 549 550.1 551 554C553 557.9 553.8 569 552 573C550.2 577 544.5 577.2 540 577.8C535.5 578.4 528 579.1 525 576.8C522 574.4 522 568.1 522 563.7C522 559.3 522 552.9 525 550.5Z" fill="#32ade0"/>
<path d="M509 551C510.4 548.5 513.5 548.5 516 548.5C518.5 548.5 522.1 548.5 524 551C525.9 553.5 527.5 559.3 527.5 563.5C527.5 567.7 525.9 573.5 524 576C522.1 578.5 518.5 578.5 516 578.5C513.5 578.5 510.4 578.5 509 576C507.6 573.5 507.5 567.7 507.5 563.5C507.5 559.3 507.6 553.5 509 551Z" fill="#fae832"/>
<path d="M545 505C549 502 555 503 556 507L556 511C552 512 548 511 546 509Z" fill="#fae832"/>
<path d="M545 622.4C549 625.4 555 624.4 556 620.4L556 616.4C552 615.4 548 616.4 546 618.4Z" fill="#fae832"/>
<ellipse cx="537.5" cy="514.8" rx="1.6" ry="1.4" fill="#fae832"/>
<ellipse cx="537.5" cy="612.5" rx="1.6" ry="1.4" fill="#fae832"/>
<path d="M482 545.7L485 544.8L488 543.6M482 581.7L485 582.6L488 583.8M455 544.9L458 544.3L461 543.6L464 542.8L467 541.9L470 540.9L473 539.8L476 538.6L479 537.3L482 536L485 534.5L488 533L491 531.3L494 529.4L497 526.5M455 582.5L458 583.1L461 583.8L464 584.6L467 585.5L470 586.5L473 587.6L476 588.8L479 590.1L482 591.4L485 592.9L488 594.4L491 596.1L494 598L497 600.9M410 546.3L413 545.7L416 545L419 544.3L422 543.6L425 542.9L428 542.1L431 541.3L434 540.5L437 539.6L440 538.8L443 537.9L446 537.1L449 536.2L452 535.3L455 534.4L458 533.5L461 532.6L464 531.7L467 530.6L470 529.6L473 528.4L476 527.2L479 525.9L482 524.5L485 523L488 521.5L491 519.9L494 518.2L497 516.4L500 514.5L503 512.1M410 581.1L413 581.7L416 582.4L419 583.1L422 583.8L425 584.5L428 585.3L431 586.1L434 586.9L437 587.8L440 588.6L443 589.5L446 590.3L449 591.2L452 592.1L455 593L458 593.9L461 594.8L464 595.7L467 596.8L470 597.8L473 599L476 600.2L479 601.5L482 602.9L485 604.4L488 605.9L491 607.5L494 609.2L497 611L500 612.9L503 615.3M350 549.4L353 548.9L356 548.4L359 547.8L362 547.2L365 546.6L368 546L371 545.3L374 544.7L377 544L380 543.3L383 542.6L386 541.8L389 541.1L392 540.4L395 539.6L398 538.8L401 538.1L404 537.3L407 536.5L410 535.7L413 534.9L416 534.1L419 533.3L422 532.4L425 531.6L428 530.8L431 529.9L434 529.1L437 528.2L440 527.3L443 526.5L446 525.6L449 524.7L452 523.8L455 522.9L458 522L461 521.1L464 520.2L467 519.1L470 518.1L473 516.9L476 515.7L479 514.4L482 513L485 511.5L488 510L491 508.4L494 506.7L497 505L500 503.1L503 501.2L506 499.2L509 497.1L512 495L515 492.8L518 490.4L521 488L524 485.6L527 483L530 480.5L533 477.8L536 475.1L539 472.3L542 469.4L545 466.5L548 463.5L551 460.4L554 457.2L557 454M350 578L353 578.5L356 579L359 579.6L362 580.2L365 580.8L368 581.4L371 582.1L374 582.7L377 583.4L380 584.1L383 584.8L386 585.6L389 586.3L392 587L395 587.8L398 588.6L401 589.3L404 590.1L407 590.9L410 591.7L413 592.5L416 593.3L419 594.1L422 595L425 595.8L428 596.6L431 597.5L434 598.3L437 599.2L440 600.1L443 600.9L446 601.8L449 602.7L452 603.6L455 604.5L458 605.4L461 606.3L464 607.2L467 608.3L470 609.3L473 610.5L476 611.7L479 613L482 614.4L485 615.9L488 617.4L491 619L494 620.7L497 622.4L500 624.3L503 626.2L506 628.2L509 630.3L512 632.4L515 634.6L518 637L521 639.4L524 641.8L527 644.4L530 646.9L533 649.6L536 652.3L539 655.1L542 658L545 660.9L548 663.9L551 667L554 670.2L557 673.4M191 558.9L194 558.9L197 558.9L200 558.9L203 558.7L206 558.6L209 558.4L212 558.3L215 558.1L218 557.9L221 557.8L224 557.6L227 557.4L230 557.2L233 557L236 556.8L239 556.6L242 556.3L245 556.1L248 555.8L251 555.6L254 555.3L257 555L260 554.7L263 554.3L266 554L269 553.6L272 553.3L275 552.9L278 552.5L281 552L284 551.6L287 551.1L290 550.7L293 550.2L296 549.7L299 549.2L302 548.6L305 548.1L308 547.5L311 547L314 546.4L317 545.8L320 545.2L323 544.6L326 544L329 543.4L332 542.8L335 542.2L338 541.6L341 540.9L344 540.3L347 539.6L350 538.9L353 538.3L356 537.6L359 536.9L362 536.2L365 535.5L368 534.8L371 534.1L374 533.4L377 532.6L380 531.9L383 531.2L386 530.4L389 529.7L392 528.9L395 528.1L398 527.4L401 526.6L404 525.8L407 525L410 524.2L413 523.4L416 522.6L419 521.8L422 520.9L425 520.1L428 519.3L431 518.4L434 517.6L437 516.7L440 515.8L443 515L446 514.1L449 513.2L452 512.3L455 511.4L458 510.5L461 509.6L464 508.7L467 507.6L470 506.6L473 505.4L476 504.2L479 502.9L482 501.5L485 500L488 498.5L491 496.9L494 495.2L497 493.5L500 491.6L503 489.7L506 487.7L509 485.7L512 483.5L515 481.3L518 479L521 476.7L524 474.3L527 471.7L530 469.2L533 466.5L536 463.8L539 461L542 458.1L545 455.1L548 452.1L551 449L554 445.8L557 442.5M191 568.5L194 568.5L197 568.5L200 568.5L203 568.7L206 568.8L209 569L212 569.1L215 569.3L218 569.5L221 569.6L224 569.8L227 570L230 570.2L233 570.4L236 570.6L239 570.8L242 571.1L245 571.3L248 571.6L251 571.8L254 572.1L257 572.4L260 572.7L263 573.1L266 573.4L269 573.8L272 574.1L275 574.5L278 574.9L281 575.4L284 575.8L287 576.3L290 576.7L293 577.2L296 577.7L299 578.2L302 578.8L305 579.3L308 579.9L311 580.4L314 581L317 581.6L320 582.2L323 582.8L326 583.4L329 584L332 584.6L335 585.2L338 585.8L341 586.5L344 587.1L347 587.8L350 588.5L353 589.1L356 589.8L359 590.5L362 591.2L365 591.9L368 592.6L371 593.3L374 594L377 594.8L380 595.5L383 596.2L386 597L389 597.7L392 598.5L395 599.3L398 600L401 600.8L404 601.6L407 602.4L410 603.2L413 604L416 604.8L419 605.6L422 606.5L425 607.3L428 608.1L431 609L434 609.8L437 610.7L440 611.6L443 612.4L446 613.3L449 614.2L452 615.1L455 616L458 616.9L461 617.8L464 618.7L467 619.8L470 620.8L473 622L476 623.2L479 624.5L482 625.9L485 627.4L488 628.9L491 630.5L494 632.2L497 633.9L500 635.8L503 637.7L506 639.7L509 641.7L512 643.9L515 646.1L518 648.4L521 650.7L524 653.1L527 655.7L530 658.2L533 660.9L536 663.6L539 666.4L542 669.3L545 672.3L548 675.3L551 678.4L554 681.6L557 684.9M50 555.2L53 555.3L56 555.3L59 555.4L62 555.6L65 555.8L68 556L71 556.2L74 556.4L77 556.7L80 556.8L83 557L86 557.2L89 557.4L92 557.5L95 557.7L98 557.6L101 557.6L104 557.6L107 557.5L110 557.5L113 557.4L116 557.4L119 557.3L122 557.3L125 557.2L128 557.1L131 557L134 556.9L137 556.8L140 556.7L143 556.6L146 556.5L149 556.3L152 556.2L155 556L158 555.9L161 555.7L164 555.5L167 555.3L170 555.1L173 554.9L176 554.7L179 554.4L182 554.2L185 553.9L188 553.7L191 553.4L194 553.1L197 552.8L200 552.5L203 552.1L206 551.8L209 551.5L212 551.1L215 550.8L218 550.4L221 550L224 549.7L227 549.3L230 548.9L233 548.5L236 548.1L239 547.7L242 547.2L245 546.8L248 546.4L251 545.9L254 545.5L257 545L260 544.6L263 544.1L266 543.6L269 543.1L272 542.6L275 542.1L278 541.6L281 541.1L284 540.6L287 540.1L290 539.5L293 539L296 538.4L299 537.9L302 537.3L305 536.8L308 536.2L311 535.6L314 535L317 534.4L320 533.8L323 533.2L326 532.6L329 532L332 531.4L335 530.7L338 530.1L341 529.4L344 528.8L347 528.1L350 527.5L353 526.8L356 526.1L359 525.4L362 524.7L365 524L368 523.3L371 522.6L374 521.9L377 521.2L380 520.4L383 519.7L386 518.9L389 518.2L392 517.4L395 516.6L398 515.9L401 515.1L404 514.3L407 513.5L410 512.7L413 511.9L416 511.1L419 510.3L422 509.4L425 508.6L428 507.8L431 506.9L434 506.1L437 505.2L440 504.3L443 503.5L446 502.6L449 501.7L452 500.8L455 499.9L458 499L461 498.1L464 497.2L467 496.1L470 495.1L473 493.9L476 492.7L479 491.4L482 490L485 488.5L488 487L491 485.4L494 483.7L497 482L500 480.1L503 478.2L506 476.2L509 474.2L512 472L515 469.8L518 467.6L521 465.2L524 462.8L527 460.3L530 457.7L533 455L536 452.3L539 449.5L542 446.6L545 443.6L548 440.6L551 437.5L554 434.3L557 431M50 572.2L53 572.1L56 572.1L59 572L62 571.8L65 571.6L68 571.4L71 571.2L74 571L77 570.7L80 570.6L83 570.4L86 570.2L89 570L92 569.9L95 569.7L98 569.8L101 569.8L104 569.8L107 569.9L110 569.9L113 570L116 570L119 570.1L122 570.1L125 570.2L128 570.3L131 570.4L134 570.5L137 570.6L140 570.7L143 570.8L146 570.9L149 571.1L152 571.2L155 571.4L158 571.5L161 571.7L164 571.9L167 572.1L170 572.3L173 572.5L176 572.7L179 573L182 573.2L185 573.5L188 573.7L191 574L194 574.3L197 574.6L200 574.9L203 575.3L206 575.6L209 575.9L212 576.3L215 576.6L218 577L221 577.4L224 577.7L227 578.1L230 578.5L233 578.9L236 579.3L239 579.7L242 580.2L245 580.6L248 581L251 581.5L254 581.9L257 582.4L260 582.8L263 583.3L266 583.8L269 584.3L272 584.8L275 585.3L278 585.8L281 586.3L284 586.8L287 587.3L290 587.9L293 588.4L296 589L299 589.5L302 590.1L305 590.6L308 591.2L311 591.8L314 592.4L317 593L320 593.6L323 594.2L326 594.8L329 595.4L332 596L335 596.7L338 597.3L341 598L344 598.6L347 599.3L350 599.9L353 600.6L356 601.3L359 602L362 602.7L365 603.4L368 604.1L371 604.8L374 605.5L377 606.2L380 607L383 607.7L386 608.5L389 609.2L392 610L395 610.8L398 611.5L401 612.3L404 613.1L407 613.9L410 614.7L413 615.5L416 616.3L419 617.1L422 618L425 618.8L428 619.6L431 620.5L434 621.3L437 622.2L440 623.1L443 623.9L446 624.8L449 625.7L452 626.6L455 627.5L458 628.4L461 629.3L464 630.2L467 631.3L470 632.3L473 633.5L476 634.7L479 636L482 637.4L485 638.9L488 640.4L491 642L494 643.7L497 645.4L500 647.3L503 649.2L506 651.2L509 653.2L512 655.4L515 657.6L518 659.8L521 662.2L524 664.6L527 667.1L530 669.7L533 672.4L536 675.1L539 677.9L542 680.8L545 683.8L548 686.8L551 689.9L554 693.1L557 696.4M50 549.5L53 549.5L56 549.5L59 549.4L62 549.4L65 549.4L68 549.4L71 549.4L74 549.3L77 549.3L80 549.2L83 549.2L86 549.1L89 549L92 548.9L95 548.8L98 548.7L101 548.6L104 548.5L107 548.4L110 548.2L113 548.1L116 548L119 547.8L122 547.6L125 547.5L128 547.3L131 547.1L134 546.9L137 546.7L140 546.6L143 546.3L146 546.1L149 545.9L152 545.7L155 545.5L158 545.2L161 545L164 544.7L167 544.5L170 544.2L173 543.9L176 543.6L179 543.3L182 543.1L185 542.8L188 542.4L191 542.1L194 541.8L197 541.5L200 541.1L203 540.8L206 540.5L209 540.1L212 539.7L215 539.4L218 539L221 538.6L224 538.2L227 537.8L230 537.4L233 537L236 536.6L239 536.2L242 535.8L245 535.3L248 534.9L251 534.5L254 534L257 533.5L260 533.1L263 532.6L266 532.1L269 531.6L272 531.1L275 530.6L278 530.1L281 529.6L284 529.1L287 528.6L290 528L293 527.5L296 526.9L299 526.4L302 525.8L305 525.3L308 524.7L311 524.1L314 523.5L317 522.9L320 522.3L323 521.7L326 521.1L329 520.5L332 519.9L335 519.2L338 518.6L341 517.9L344 517.3L347 516.6L350 516L353 515.3L356 514.6L359 513.9L362 513.2L365 512.5L368 511.8L371 511.1L374 510.4L377 509.7L380 508.9L383 508.2L386 507.4L389 506.7L392 505.9L395 505.1L398 504.4L401 503.6L404 502.8L407 502L410 501.2L413 500.4L416 499.6L419 498.8L422 497.9L425 497.1L428 496.3L431 495.4L434 494.6L437 493.7L440 492.8L443 492L446 491.1L449 490.2L452 489.3L455 488.4L458 487.5L461 486.6L464 485.7L467 484.6L470 483.6L473 482.4L476 481.2L479 479.9L482 478.5L485 477L488 475.5L491 473.9L494 472.2L497 470.5L500 468.6L503 466.7L506 464.7L509 462.7L512 460.5L515 458.3L518 456.1L521 453.7L524 451.3L527 448.8L530 446.2L533 443.5L536 440.8L539 438L542 435.1L545 432.1L548 429.1M50 577.9L53 577.9L56 577.9L59 578L62 578L65 578L68 578L71 578L74 578.1L77 578.1L80 578.2L83 578.2L86 578.3L89 578.4L92 578.5L95 578.6L98 578.7L101 578.8L104 578.9L107 579L110 579.2L113 579.3L116 579.4L119 579.6L122 579.8L125 579.9L128 580.1L131 580.3L134 580.5L137 580.7L140 580.8L143 581.1L146 581.3L149 581.5L152 581.7L155 581.9L158 582.2L161 582.4L164 582.7L167 582.9L170 583.2L173 583.5L176 583.8L179 584.1L182 584.3L185 584.6L188 585L191 585.3L194 585.6L197 585.9L200 586.3L203 586.6L206 586.9L209 587.3L212 587.7L215 588L218 588.4L221 588.8L224 589.2L227 589.6L230 590L233 590.4L236 590.8L239 591.2L242 591.6L245 592.1L248 592.5L251 592.9L254 593.4L257 593.9L260 594.3L263 594.8L266 595.3L269 595.8L272 596.3L275 596.8L278 597.3L281 597.8L284 598.3L287 598.8L290 599.4L293 599.9L296 600.5L299 601L302 601.6L305 602.1L308 602.7L311 603.3L314 603.9L317 604.5L320 605.1L323 605.7L326 606.3L329 606.9L332 607.5L335 608.2L338 608.8L341 609.5L344 610.1L347 610.8L350 611.4L353 612.1L356 612.8L359 613.5L362 614.2L365 614.9L368 615.6L371 616.3L374 617L377 617.7L380 618.5L383 619.2L386 620L389 620.7L392 621.5L395 622.3L398 623L401 623.8L404 624.6L407 625.4L410 626.2L413 627L416 627.8L419 628.6L422 629.5L425 630.3L428 631.1L431 632L434 632.8L437 633.7L440 634.6L443 635.4L446 636.3L449 637.2L452 638.1L455 639L458 639.9L461 640.8L464 641.7L467 642.8L470 643.8L473 645L476 646.2L479 647.5L482 648.9L485 650.4L488 651.9L491 653.5L494 655.2L497 656.9L500 658.8L503 660.7L506 662.7L509 664.7L512 666.9L515 669.1L518 671.3L521 673.7L524 676.1L527 678.6L530 681.2L533 683.9L536 686.6L539 689.4L542 692.3L545 695.3L548 698.3M50 538.2L53 538.2L56 538.2L59 538.2L62 538.1L65 538.1L68 538.1L71 538L74 537.9L77 537.9L80 537.8L83 537.7L86 537.7L89 537.6L92 537.5L95 537.4L98 537.3L101 537.2L104 537L107 536.9L110 536.8L113 536.6L116 536.5L119 536.3L122 536.2L125 536L128 535.8L131 535.7L134 535.5L137 535.3L140 535.1L143 534.9L146 534.6L149 534.4L152 534.2L155 534L158 533.7L161 533.5L164 533.2L167 533L170 532.7L173 532.4L176 532.1L179 531.9L182 531.6L185 531.3L188 530.9L191 530.6L194 530.3L197 530L200 529.7L203 529.3L206 529L209 528.6L212 528.2L215 527.9L218 527.5L221 527.1L224 526.7L227 526.3L230 525.9L233 525.5L236 525.1L239 524.7L242 524.3L245 523.8L248 523.4L251 523L254 522.5L257 522L260 521.6L263 521.1L266 520.6L269 520.1L272 519.6L275 519.1L278 518.6L281 518.1L284 517.6L287 517.1L290 516.5L293 516L296 515.4L299 514.9L302 514.3L305 513.8L308 513.2L311 512.6L314 512L317 511.4L320 510.8L323 510.2L326 509.6L329 509L332 508.4L335 507.7L338 507.1L341 506.4L344 505.8L347 505.1L350 504.5L353 503.8L356 503.1L359 502.4L362 501.7L365 501L368 500.3L371 499.6L374 498.9L377 498.2L380 497.4L383 496.7L386 495.9L389 495.2L392 494.4L395 493.6L398 492.9L401 492.1L404 491.3L407 490.5L410 489.7L413 488.9L416 488.1L419 487.3L422 486.4L425 485.6L428 484.8L431 483.9L434 483.1L437 482.2L440 481.3L443 480.5L446 479.6L449 478.7L452 477.8L455 476.9L458 476L461 475.1L464 474.2L467 473.1L470 472.1L473 470.9L476 469.7L479 468.4L482 467L485 465.5L488 464L491 462.4L494 460.7L497 459L500 457.1L503 455.2L506 453.2L509 451.2L512 449L515 446.8L518 444.6L521 442.2L524 439.8L527 437.3L530 434.7L533 432L536 429.3M50 589.2L53 589.2L56 589.2L59 589.2L62 589.3L65 589.3L68 589.3L71 589.4L74 589.5L77 589.5L80 589.6L83 589.7L86 589.7L89 589.8L92 589.9L95 590L98 590.1L101 590.2L104 590.4L107 590.5L110 590.6L113 590.8L116 590.9L119 591.1L122 591.2L125 591.4L128 591.6L131 591.7L134 591.9L137 592.1L140 592.3L143 592.5L146 592.8L149 593L152 593.2L155 593.4L158 593.7L161 593.9L164 594.2L167 594.4L170 594.7L173 595L176 595.3L179 595.5L182 595.8L185 596.1L188 596.5L191 596.8L194 597.1L197 597.4L200 597.7L203 598.1L206 598.4L209 598.8L212 599.2L215 599.5L218 599.9L221 600.3L224 600.7L227 601.1L230 601.5L233 601.9L236 602.3L239 602.7L242 603.1L245 603.6L248 604L251 604.4L254 604.9L257 605.4L260 605.8L263 606.3L266 606.8L269 607.3L272 607.8L275 608.3L278 608.8L281 609.3L284 609.8L287 610.3L290 610.9L293 611.4L296 612L299 612.5L302 613.1L305 613.6L308 614.2L311 614.8L314 615.4L317 616L320 616.6L323 617.2L326 617.8L329 618.4L332 619L335 619.7L338 620.3L341 621L344 621.6L347 622.3L350 622.9L353 623.6L356 624.3L359 625L362 625.7L365 626.4L368 627.1L371 627.8L374 628.5L377 629.2L380 630L383 630.7L386 631.5L389 632.2L392 633L395 633.8L398 634.5L401 635.3L404 636.1L407 636.9L410 637.7L413 638.5L416 639.3L419 640.1L422 641L425 641.8L428 642.6L431 643.5L434 644.3L437 645.2L440 646.1L443 646.9L446 647.8L449 648.7L452 649.6L455 650.5L458 651.4L461 652.3L464 653.2L467 654.3L470 655.3L473 656.5L476 657.7L479 659L482 660.4L485 661.9L488 663.4L491 665L494 666.7L497 668.4L500 670.3L503 672.2L506 674.2L509 676.2L512 678.4L515 680.6L518 682.8L521 685.2L524 687.6L527 690.1L530 692.7L533 695.4L536 698.1M50 526.7L53 526.7L56 526.7L59 526.7L62 526.6L65 526.6L68 526.6L71 526.5L74 526.4L77 526.4L80 526.3L83 526.2L86 526.2L89 526.1L92 526L95 525.9L98 525.8L101 525.7L104 525.5L107 525.4L110 525.3L113 525.1L116 525L119 524.8L122 524.7L125 524.5L128 524.3L131 524.2L134 524L137 523.8L140 523.6L143 523.4L146 523.1L149 522.9L152 522.7L155 522.5L158 522.2L161 522L164 521.7L167 521.5L170 521.2L173 520.9L176 520.6L179 520.4L182 520.1L185 519.8L188 519.4L191 519.1L194 518.8L197 518.5L200 518.2L203 517.8L206 517.5L209 517.1L212 516.7L215 516.4L218 516L221 515.6L224 515.2L227 514.8L230 514.4L233 514L236 513.6L239 513.2L242 512.8L245 512.3L248 511.9L251 511.5L254 511L257 510.5L260 510.1L263 509.6L266 509.1L269 508.6L272 508.1L275 507.6L278 507.1L281 506.6L284 506.1L287 505.6L290 505L293 504.5L296 503.9L299 503.4L302 502.8L305 502.3L308 501.7L311 501.1L314 500.5L317 499.9L320 499.3L323 498.7L326 498.1L329 497.5L332 496.9L335 496.2L338 495.6L341 494.9L344 494.3L347 493.6L350 493L353 492.3L356 491.6L359 490.9L362 490.2L365 489.5L368 488.8L371 488.1L374 487.4L377 486.7L380 485.9L383 485.2L386 484.4L389 483.7L392 482.9L395 482.1L398 481.4L401 480.6L404 479.8L407 479L410 478.2L413 477.4L416 476.6L419 475.8L422 474.9L425 474.1L428 473.3L431 472.4L434 471.6L437 470.7L440 469.8L443 469L446 468.1L449 467.2L452 466.3L455 465.4L458 464.5L461 463.6L464 462.7L467 461.6L470 460.6L473 459.4L476 458.2L479 456.9L482 455.5L485 454L488 452.5L491 450.9L494 449.2L497 447.5L500 445.6L503 443.7L506 441.7L509 439.7L512 437.5L515 435.3L518 433.1L521 430.7L524 428.3M50 600.7L53 600.7L56 600.7L59 600.7L62 600.8L65 600.8L68 600.8L71 600.9L74 601L77 601L80 601.1L83 601.2L86 601.2L89 601.3L92 601.4L95 601.5L98 601.6L101 601.7L104 601.9L107 602L110 602.1L113 602.3L116 602.4L119 602.6L122 602.7L125 602.9L128 603.1L131 603.2L134 603.4L137 603.6L140 603.8L143 604L146 604.3L149 604.5L152 604.7L155 604.9L158 605.2L161 605.4L164 605.7L167 605.9L170 606.2L173 606.5L176 606.8L179 607L182 607.3L185 607.6L188 608L191 608.3L194 608.6L197 608.9L200 609.2L203 609.6L206 609.9L209 610.3L212 610.7L215 611L218 611.4L221 611.8L224 612.2L227 612.6L230 613L233 613.4L236 613.8L239 614.2L242 614.6L245 615.1L248 615.5L251 615.9L254 616.4L257 616.9L260 617.3L263 617.8L266 618.3L269 618.8L272 619.3L275 619.8L278 620.3L281 620.8L284 621.3L287 621.8L290 622.4L293 622.9L296 623.5L299 624L302 624.6L305 625.1L308 625.7L311 626.3L314 626.9L317 627.5L320 628.1L323 628.7L326 629.3L329 629.9L332 630.5L335 631.2L338 631.8L341 632.5L344 633.1L347 633.8L350 634.4L353 635.1L356 635.8L359 636.5L362 637.2L365 637.9L368 638.6L371 639.3L374 640L377 640.7L380 641.5L383 642.2L386 643L389 643.7L392 644.5L395 645.3L398 646L401 646.8L404 647.6L407 648.4L410 649.2L413 650L416 650.8L419 651.6L422 652.5L425 653.3L428 654.1L431 655L434 655.8L437 656.7L440 657.6L443 658.4L446 659.3L449 660.2L452 661.1L455 662L458 662.9L461 663.8L464 664.7L467 665.8L470 666.8L473 668L476 669.2L479 670.5L482 671.9L485 673.4L488 674.9L491 676.5L494 678.2L497 679.9L500 681.8L503 683.7L506 685.7L509 687.7L512 689.9L515 692.1L518 694.3L521 696.7L524 699.1M50 515.2L53 515.2L56 515.2L59 515.2L62 515.1L65 515.1L68 515.1L71 515L74 514.9L77 514.9L80 514.8L83 514.7L86 514.7L89 514.6L92 514.5L95 514.4L98 514.3L101 514.2L104 514L107 513.9L110 513.8L113 513.6L116 513.5L119 513.3L122 513.2L125 513L128 512.8L131 512.7L134 512.5L137 512.3L140 512.1L143 511.9L146 511.6L149 511.4L152 511.2L155 511L158 510.7L161 510.5L164 510.2L167 510L170 509.7L173 509.4L176 509.1L179 508.9L182 508.6L185 508.3L188 507.9L191 507.6L194 507.3L197 507L200 506.7L203 506.3L206 506L209 505.6L212 505.2L215 504.9L218 504.5L221 504.1L224 503.7L227 503.3L230 502.9L233 502.5L236 502.1L239 501.7L242 501.3L245 500.8L248 500.4L251 500L254 499.5L257 499L260 498.6L263 498.1L266 497.6L269 497.1L272 496.6L275 496.1L278 495.6L281 495.1L284 494.6L287 494.1L290 493.5L293 493L296 492.4L299 491.9L302 491.3L305 490.8L308 490.2L311 489.6L314 489L317 488.4L320 487.8L323 487.2L326 486.6L329 486L332 485.4L335 484.7L338 484.1L341 483.4L344 482.8L347 482.1L350 481.5L353 480.8L356 480.1L359 479.4L362 478.7L365 478L368 477.3L371 476.6L374 475.9L377 475.2L380 474.4L383 473.7L386 472.9L389 472.2L392 471.4L395 470.6L398 469.9L401 469.1L404 468.3L407 467.5L410 466.7L413 465.9L416 465.1L419 464.3L422 463.4L425 462.6L428 461.8L431 460.9L434 460.1L437 459.2L440 458.3L443 457.5L446 456.6L449 455.7L452 454.8L455 453.9L458 453L461 452.1L464 451.2L467 450.1L470 449.1L473 447.9L476 446.7L479 445.4L482 444L485 442.5L488 441L491 439.4L494 437.7L497 436L500 434.1L503 432.2L506 430.2L509 428.2M50 612.2L53 612.2L56 612.2L59 612.2L62 612.3L65 612.3L68 612.3L71 612.4L74 612.5L77 612.5L80 612.6L83 612.7L86 612.7L89 612.8L92 612.9L95 613L98 613.1L101 613.2L104 613.4L107 613.5L110 613.6L113 613.8L116 613.9L119 614.1L122 614.2L125 614.4L128 614.6L131 614.7L134 614.9L137 615.1L140 615.3L143 615.5L146 615.8L149 616L152 616.2L155 616.4L158 616.7L161 616.9L164 617.2L167 617.4L170 617.7L173 618L176 618.3L179 618.5L182 618.8L185 619.1L188 619.5L191 619.8L194 620.1L197 620.4L200 620.7L203 621.1L206 621.4L209 621.8L212 622.2L215 622.5L218 622.9L221 623.3L224 623.7L227 624.1L230 624.5L233 624.9L236 625.3L239 625.7L242 626.1L245 626.6L248 627L251 627.4L254 627.9L257 628.4L260 628.8L263 629.3L266 629.8L269 630.3L272 630.8L275 631.3L278 631.8L281 632.3L284 632.8L287 633.3L290 633.9L293 634.4L296 635L299 635.5L302 636.1L305 636.6L308 637.2L311 637.8L314 638.4L317 639L320 639.6L323 640.2L326 640.8L329 641.4L332 642L335 642.7L338 643.3L341 644L344 644.6L347 645.3L350 645.9L353 646.6L356 647.3L359 648L362 648.7L365 649.4L368 650.1L371 650.8L374 651.5L377 652.2L380 653L383 653.7L386 654.5L389 655.2L392 656L395 656.8L398 657.5L401 658.3L404 659.1L407 659.9L410 660.7L413 661.5L416 662.3L419 663.1L422 664L425 664.8L428 665.6L431 666.5L434 667.3L437 668.2L440 669.1L443 669.9L446 670.8L449 671.7L452 672.6L455 673.5L458 674.4L461 675.3L464 676.2L467 677.3L470 678.3L473 679.5L476 680.7L479 682L482 683.4L485 684.9L488 686.4L491 688L494 689.7L497 691.4L500 693.3L503 695.2L506 697.2L509 699.2M50 503.7L53 503.7L56 503.7L59 503.7L62 503.6L65 503.6L68 503.6L71 503.5L74 503.4L77 503.4L80 503.3L83 503.2L86 503.2L89 503.1L92 503L95 502.9L98 502.8L101 502.7L104 502.5L107 502.4L110 502.3L113 502.1L116 502L119 501.8L122 501.7L125 501.5L128 501.3L131 501.2L134 501L137 500.8L140 500.6L143 500.4L146 500.1L149 499.9L152 499.7L155 499.5L158 499.2L161 499L164 498.7L167 498.5L170 498.2L173 497.9L176 497.6L179 497.4L182 497.1L185 496.8L188 496.4L191 496.1L194 495.8L197 495.5L200 495.2L203 494.8L206 494.5L209 494.1L212 493.7L215 493.4L218 493L221 492.6L224 492.2L227 491.8L230 491.4L233 491L236 490.6L239 490.2L242 489.8L245 489.3L248 488.9L251 488.5L254 488L257 487.5L260 487.1L263 486.6L266 486.1L269 485.6L272 485.1L275 484.6L278 484.1L281 483.6L284 483.1L287 482.6L290 482L293 481.5L296 480.9L299 480.4L302 479.8L305 479.3L308 478.7L311 478.1L314 477.5L317 476.9L320 476.3L323 475.7L326 475.1L329 474.5L332 473.9L335 473.2L338 472.6L341 471.9L344 471.3L347 470.6L350 470L353 469.3L356 468.6L359 467.9L362 467.2L365 466.5L368 465.8L371 465.1L374 464.4L377 463.7L380 462.9L383 462.2L386 461.4L389 460.7L392 459.9L395 459.1L398 458.4L401 457.6L404 456.8L407 456L410 455.2L413 454.4L416 453.6L419 452.8L422 451.9L425 451.1L428 450.3L431 449.4L434 448.6L437 447.7L440 446.8L443 446L446 445.1L449 444.2L452 443.3L455 442.4L458 441.5L461 440.6L464 439.7L467 438.6L470 437.6L473 436.4L476 435.2L479 433.9L482 432.5L485 431L488 429.5L491 427.9M50 623.7L53 623.7L56 623.7L59 623.7L62 623.8L65 623.8L68 623.8L71 623.9L74 624L77 624L80 624.1L83 624.2L86 624.2L89 624.3L92 624.4L95 624.5L98 624.6L101 624.7L104 624.9L107 625L110 625.1L113 625.3L116 625.4L119 625.6L122 625.7L125 625.9L128 626.1L131 626.2L134 626.4L137 626.6L140 626.8L143 627L146 627.3L149 627.5L152 627.7L155 627.9L158 628.2L161 628.4L164 628.7L167 628.9L170 629.2L173 629.5L176 629.8L179 630L182 630.3L185 630.6L188 631L191 631.3L194 631.6L197 631.9L200 632.2L203 632.6L206 632.9L209 633.3L212 633.7L215 634L218 634.4L221 634.8L224 635.2L227 635.6L230 636L233 636.4L236 636.8L239 637.2L242 637.6L245 638.1L248 638.5L251 638.9L254 639.4L257 639.9L260 640.3L263 640.8L266 641.3L269 641.8L272 642.3L275 642.8L278 643.3L281 643.8L284 644.3L287 644.8L290 645.4L293 645.9L296 646.5L299 647L302 647.6L305 648.1L308 648.7L311 649.3L314 649.9L317 650.5L320 651.1L323 651.7L326 652.3L329 652.9L332 653.5L335 654.2L338 654.8L341 655.5L344 656.1L347 656.8L350 657.4L353 658.1L356 658.8L359 659.5L362 660.2L365 660.9L368 661.6L371 662.3L374 663L377 663.7L380 664.5L383 665.2L386 666L389 666.7L392 667.5L395 668.3L398 669L401 669.8L404 670.6L407 671.4L410 672.2L413 673L416 673.8L419 674.6L422 675.5L425 676.3L428 677.1L431 678L434 678.8L437 679.7L440 680.6L443 681.4L446 682.3L449 683.2L452 684.1L455 685L458 685.9L461 686.8L464 687.7L467 688.8L470 689.8L473 691L476 692.2L479 693.5L482 694.9L485 696.4L488 697.9L491 699.5M50 492.2L53 492.2L56 492.2L59 492.2L62 492.1L65 492.1L68 492.1L71 492L74 491.9L77 491.9L80 491.8L83 491.7L86 491.7L89 491.6L92 491.5L95 491.4L98 491.3L101 491.2L104 491L107 490.9L110 490.8L113 490.6L116 490.5L119 490.3L122 490.2L125 490L128 489.8L131 489.7L134 489.5L137 489.3L140 489.1L143 488.9L146 488.6L149 488.4L152 488.2L155 488L158 487.7L161 487.5L164 487.2L167 487L170 486.7L173 486.4L176 486.1L179 485.9L182 485.6L185 485.3L188 484.9L191 484.6L194 484.3L197 484L200 483.7L203 483.3L206 483L209 482.6L212 482.2L215 481.9L218 481.5L221 481.1L224 480.7L227 480.3L230 479.9L233 479.5L236 479.1L239 478.7L242 478.3L245 477.8L248 477.4L251 477L254 476.5L257 476L260 475.6L263 475.1L266 474.6L269 474.1L272 473.6L275 473.1L278 472.6L281 472.1L284 471.6L287 471.1L290 470.5L293 470L296 469.4L299 468.9L302 468.3L305 467.8L308 467.2L311 466.6L314 466L317 465.4L320 464.8L323 464.2L326 463.6L329 463L332 462.4L335 461.7L338 461.1L341 460.4L344 459.8L347 459.1L350 458.5L353 457.8L356 457.1L359 456.4L362 455.7L365 455L368 454.3L371 453.6L374 452.9L377 452.2L380 451.4L383 450.7L386 449.9L389 449.2L392 448.4L395 447.6L398 446.9L401 446.1L404 445.3L407 444.5L410 443.7L413 442.9L416 442.1L419 441.3L422 440.4L425 439.6L428 438.8L431 437.9L434 437.1L437 436.2L440 435.3L443 434.5L446 433.6L449 432.7L452 431.8L455 430.9L458 430L461 429.1L464 428.2L467 427.1M50 635.2L53 635.2L56 635.2L59 635.2L62 635.3L65 635.3L68 635.3L71 635.4L74 635.5L77 635.5L80 635.6L83 635.7L86 635.7L89 635.8L92 635.9L95 636L98 636.1L101 636.2L104 636.4L107 636.5L110 636.6L113 636.8L116 636.9L119 637.1L122 637.2L125 637.4L128 637.6L131 637.7L134 637.9L137 638.1L140 638.3L143 638.5L146 638.8L149 639L152 639.2L155 639.4L158 639.7L161 639.9L164 640.2L167 640.4L170 640.7L173 641L176 641.3L179 641.5L182 641.8L185 642.1L188 642.5L191 642.8L194 643.1L197 643.4L200 643.7L203 644.1L206 644.4L209 644.8L212 645.2L215 645.5L218 645.9L221 646.3L224 646.7L227 647.1L230 647.5L233 647.9L236 648.3L239 648.7L242 649.1L245 649.6L248 650L251 650.4L254 650.9L257 651.4L260 651.8L263 652.3L266 652.8L269 653.3L272 653.8L275 654.3L278 654.8L281 655.3L284 655.8L287 656.3L290 656.9L293 657.4L296 658L299 658.5L302 659.1L305 659.6L308 660.2L311 660.8L314 661.4L317 662L320 662.6L323 663.2L326 663.8L329 664.4L332 665L335 665.7L338 666.3L341 667L344 667.6L347 668.3L350 668.9L353 669.6L356 670.3L359 671L362 671.7L365 672.4L368 673.1L371 673.8L374 674.5L377 675.2L380 676L383 676.7L386 677.5L389 678.2L392 679L395 679.8L398 680.5L401 681.3L404 682.1L407 682.9L410 683.7L413 684.5L416 685.3L419 686.1L422 687L425 687.8L428 688.6L431 689.5L434 690.3L437 691.2L440 692.1L443 692.9L446 693.8L449 694.7L452 695.6L455 696.5L458 697.4L461 698.3L464 699.2L467 700.3M50 480.7L53 480.7L56 480.7L59 480.7L62 480.6L65 480.6L68 480.6L71 480.5L74 480.4L77 480.4L80 480.3L83 480.2L86 480.2L89 480.1L92 480L95 479.9L98 479.8L101 479.7L104 479.5L107 479.4L110 479.3L113 479.1L116 479L119 478.8L122 478.7L125 478.5L128 478.3L131 478.2L134 478L137 477.8L140 477.6L143 477.4L146 477.1L149 476.9L152 476.7L155 476.5L158 476.2L161 476L164 475.7L167 475.5L170 475.2L173 474.9L176 474.6L179 474.4L182 474.1L185 473.8L188 473.4L191 473.1L194 472.8L197 472.5L200 472.2L203 471.8L206 471.5L209 471.1L212 470.7L215 470.4L218 470L221 469.6L224 469.2L227 468.8L230 468.4L233 468L236 467.6L239 467.2L242 466.8L245 466.3L248 465.9L251 465.5L254 465L257 464.5L260 464.1L263 463.6L266 463.1L269 462.6L272 462.1L275 461.6L278 461.1L281 460.6L284 460.1L287 459.6L290 459L293 458.5L296 457.9L299 457.4L302 456.8L305 456.3L308 455.7L311 455.1L314 454.5L317 453.9L320 453.3L323 452.7L326 452.1L329 451.5L332 450.9L335 450.2L338 449.6L341 448.9L344 448.3L347 447.6L350 447L353 446.3L356 445.6L359 444.9L362 444.2L365 443.5L368 442.8L371 442.1L374 441.4L377 440.7L380 439.9L383 439.2L386 438.4L389 437.7L392 436.9L395 436.1L398 435.4L401 434.6L404 433.8L407 433L410 432.2L413 431.4L416 430.6L419 429.8L422 428.9L425 428.1L428 427.3M50 646.7L53 646.7L56 646.7L59 646.7L62 646.8L65 646.8L68 646.8L71 646.9L74 647L77 647L80 647.1L83 647.2L86 647.2L89 647.3L92 647.4L95 647.5L98 647.6L101 647.7L104 647.9L107 648L110 648.1L113 648.3L116 648.4L119 648.6L122 648.7L125 648.9L128 649.1L131 649.2L134 649.4L137 649.6L140 649.8L143 650L146 650.3L149 650.5L152 650.7L155 650.9L158 651.2L161 651.4L164 651.7L167 651.9L170 652.2L173 652.5L176 652.8L179 653L182 653.3L185 653.6L188 654L191 654.3L194 654.6L197 654.9L200 655.2L203 655.6L206 655.9L209 656.3L212 656.7L215 657L218 657.4L221 657.8L224 658.2L227 658.6L230 659L233 659.4L236 659.8L239 660.2L242 660.6L245 661.1L248 661.5L251 661.9L254 662.4L257 662.9L260 663.3L263 663.8L266 664.3L269 664.8L272 665.3L275 665.8L278 666.3L281 666.8L284 667.3L287 667.8L290 668.4L293 668.9L296 669.5L299 670L302 670.6L305 671.1L308 671.7L311 672.3L314 672.9L317 673.5L320 674.1L323 674.7L326 675.3L329 675.9L332 676.5L335 677.2L338 677.8L341 678.5L344 679.1L347 679.8L350 680.4L353 681.1L356 681.8L359 682.5L362 683.2L365 683.9L368 684.6L371 685.3L374 686L377 686.7L380 687.5L383 688.2L386 689L389 689.7L392 690.5L395 691.3L398 692L401 692.8L404 693.6L407 694.4L410 695.2L413 696L416 696.8L419 697.6L422 698.5L425 699.3L428 700.1M50 469.2L53 469.2L56 469.2L59 469.2L62 469.1L65 469.1L68 469.1L71 469L74 468.9L77 468.9L80 468.8L83 468.7L86 468.7L89 468.6L92 468.5L95 468.4L98 468.3L101 468.2L104 468L107 467.9L110 467.8L113 467.6L116 467.5L119 467.3L122 467.2L125 467L128 466.8L131 466.7L134 466.5L137 466.3L140 466.1L143 465.9L146 465.6L149 465.4L152 465.2L155 465L158 464.7L161 464.5L164 464.2L167 464L170 463.7L173 463.4L176 463.1L179 462.9L182 462.6L185 462.3L188 461.9L191 461.6L194 461.3L197 461L200 460.7L203 460.3L206 460L209 459.6L212 459.2L215 458.9L218 458.5L221 458.1L224 457.7L227 457.3L230 456.9L233 456.5L236 456.1L239 455.7L242 455.3L245 454.8L248 454.4L251 454L254 453.5L257 453L260 452.6L263 452.1L266 451.6L269 451.1L272 450.6L275 450.1L278 449.6L281 449.1L284 448.6L287 448.1L290 447.5L293 447L296 446.4L299 445.9L302 445.3L305 444.8L308 444.2L311 443.6L314 443L317 442.4L320 441.8L323 441.2L326 440.6L329 440L332 439.4L335 438.7L338 438.1L341 437.4L344 436.8L347 436.1L350 435.5L353 434.8L356 434.1L359 433.4L362 432.7L365 432L368 431.3L371 430.6L374 429.9L377 429.2L380 428.4L383 427.7M50 658.2L53 658.2L56 658.2L59 658.2L62 658.3L65 658.3L68 658.3L71 658.4L74 658.5L77 658.5L80 658.6L83 658.7L86 658.7L89 658.8L92 658.9L95 659L98 659.1L101 659.2L104 659.4L107 659.5L110 659.6L113 659.8L116 659.9L119 660.1L122 660.2L125 660.4L128 660.6L131 660.7L134 660.9L137 661.1L140 661.3L143 661.5L146 661.8L149 662L152 662.2L155 662.4L158 662.7L161 662.9L164 663.2L167 663.4L170 663.7L173 664L176 664.3L179 664.5L182 664.8L185 665.1L188 665.5L191 665.8L194 666.1L197 666.4L200 666.7L203 667.1L206 667.4L209 667.8L212 668.2L215 668.5L218 668.9L221 669.3L224 669.7L227 670.1L230 670.5L233 670.9L236 671.3L239 671.7L242 672.1L245 672.6L248 673L251 673.4L254 673.9L257 674.4L260 674.8L263 675.3L266 675.8L269 676.3L272 676.8L275 677.3L278 677.8L281 678.3L284 678.8L287 679.3L290 679.9L293 680.4L296 681L299 681.5L302 682.1L305 682.6L308 683.2L311 683.8L314 684.4L317 685L320 685.6L323 686.2L326 686.8L329 687.4L332 688L335 688.7L338 689.3L341 690L344 690.6L347 691.3L350 691.9L353 692.6L356 693.3L359 694L362 694.7L365 695.4L368 696.1L371 696.8L374 697.5L377 698.2L380 699L383 699.7M50 457.7L53 457.7L56 457.7L59 457.7L62 457.6L65 457.6L68 457.6L71 457.5L74 457.4L77 457.4L80 457.3L83 457.2L86 457.2L89 457.1L92 457L95 456.9L98 456.8L101 456.7L104 456.5L107 456.4L110 456.3L113 456.1L116 456L119 455.8L122 455.7L125 455.5L128 455.3L131 455.2L134 455L137 454.8L140 454.6L143 454.4L146 454.1L149 453.9L152 453.7L155 453.5L158 453.2L161 453L164 452.7L167 452.5L170 452.2L173 451.9L176 451.6L179 451.4L182 451.1L185 450.8L188 450.4L191 450.1L194 449.8L197 449.5L200 449.2L203 448.8L206 448.5L209 448.1L212 447.7L215 447.4L218 447L221 446.6L224 446.2L227 445.8L230 445.4L233 445L236 444.6L239 444.2L242 443.8L245 443.3L248 442.9L251 442.5L254 442L257 441.5L260 441.1L263 440.6L266 440.1L269 439.6L272 439.1L275 438.6L278 438.1L281 437.6L284 437.1L287 436.6L290 436L293 435.5L296 434.9L299 434.4L302 433.8L305 433.3L308 432.7L311 432.1L314 431.5L317 430.9L320 430.3L323 429.7L326 429.1L329 428.5L332 427.9L335 427.2M50 669.7L53 669.7L56 669.7L59 669.7L62 669.8L65 669.8L68 669.8L71 669.9L74 670L77 670L80 670.1L83 670.2L86 670.2L89 670.3L92 670.4L95 670.5L98 670.6L101 670.7L104 670.9L107 671L110 671.1L113 671.3L116 671.4L119 671.6L122 671.7L125 671.9L128 672.1L131 672.2L134 672.4L137 672.6L140 672.8L143 673L146 673.3L149 673.5L152 673.7L155 673.9L158 674.2L161 674.4L164 674.7L167 674.9L170 675.2L173 675.5L176 675.8L179 676L182 676.3L185 676.6L188 677L191 677.3L194 677.6L197 677.9L200 678.2L203 678.6L206 678.9L209 679.3L212 679.7L215 680L218 680.4L221 680.8L224 681.2L227 681.6L230 682L233 682.4L236 682.8L239 683.2L242 683.6L245 684.1L248 684.5L251 684.9L254 685.4L257 685.9L260 686.3L263 686.8L266 687.3L269 687.8L272 688.3L275 688.8L278 689.3L281 689.8L284 690.3L287 690.8L290 691.4L293 691.9L296 692.5L299 693L302 693.6L305 694.1L308 694.7L311 695.3L314 695.9L317 696.5L320 697.1L323 697.7L326 698.3L329 698.9L332 699.5L335 700.2M50 446.2L53 446.2L56 446.2L59 446.2L62 446.1L65 446.1L68 446.1L71 446L74 445.9L77 445.9L80 445.8L83 445.7L86 445.7L89 445.6L92 445.5L95 445.4L98 445.3L101 445.2L104 445L107 444.9L110 444.8L113 444.6L116 444.5L119 444.3L122 444.2L125 444L128 443.8L131 443.7L134 443.5L137 443.3L140 443.1L143 442.9L146 442.6L149 442.4L152 442.2L155 442L158 441.7L161 441.5L164 441.2L167 441L170 440.7L173 440.4L176 440.1L179 439.9L182 439.6L185 439.3L188 438.9L191 438.6L194 438.3L197 438L200 437.7L203 437.3L206 437L209 436.6L212 436.2L215 435.9L218 435.5L221 435.1L224 434.7L227 434.3L230 433.9L233 433.5L236 433.1L239 432.7L242 432.3L245 431.8L248 431.4L251 431L254 430.5L257 430L260 429.6L263 429.1L266 428.6L269 428.1L272 427.6L275 427.1M50 681.2L53 681.2L56 681.2L59 681.2L62 681.3L65 681.3L68 681.3L71 681.4L74 681.5L77 681.5L80 681.6L83 681.7L86 681.7L89 681.8L92 681.9L95 682L98 682.1L101 682.2L104 682.4L107 682.5L110 682.6L113 682.8L116 682.9L119 683.1L122 683.2L125 683.4L128 683.6L131 683.7L134 683.9L137 684.1L140 684.3L143 684.5L146 684.8L149 685L152 685.2L155 685.4L158 685.7L161 685.9L164 686.2L167 686.4L170 686.7L173 687L176 687.3L179 687.5L182 687.8L185 688.1L188 688.5L191 688.8L194 689.1L197 689.4L200 689.7L203 690.1L206 690.4L209 690.8L212 691.2L215 691.5L218 691.9L221 692.3L224 692.7L227 693.1L230 693.5L233 693.9L236 694.3L239 694.7L242 695.1L245 695.6L248 696L251 696.4L254 696.9L257 697.4L260 697.8L263 698.3L266 698.8L269 699.3L272 699.8L275 700.3M50 434.7L53 434.7L56 434.7L59 434.7L62 434.6L65 434.6L68 434.6L71 434.5L74 434.4L77 434.4L80 434.3L83 434.2L86 434.2L89 434.1L92 434L95 433.9L98 433.8L101 433.7L104 433.5L107 433.4L110 433.3L113 433.1L116 433L119 432.8L122 432.7L125 432.5L128 432.3L131 432.2L134 432L137 431.8L140 431.6L143 431.4L146 431.1L149 430.9L152 430.7L155 430.5L158 430.2L161 430L164 429.7L167 429.5L170 429.2L173 428.9L176 428.6L179 428.4L182 428.1L185 427.8L188 427.4L191 427.1M50 692.7L53 692.7L56 692.7L59 692.7L62 692.8L65 692.8L68 692.8L71 692.9L74 693L77 693L80 693.1L83 693.2L86 693.2L89 693.3L92 693.4L95 693.5L98 693.6L101 693.7L104 693.9L107 694L110 694.1L113 694.3L116 694.4L119 694.6L122 694.7L125 694.9L128 695.1L131 695.2L134 695.4L137 695.6L140 695.8L143 696L146 696.3L149 696.5L152 696.7L155 696.9L158 697.2L161 697.4L164 697.7L167 697.9L170 698.2L173 698.5L176 698.8L179 699L182 699.3L185 699.6L188 700L191 700.3" stroke="#cfd7ee" stroke-width="1.2" fill="none" stroke-linejoin="round" stroke-linecap="round" opacity="1.0"/>
<path d="M52 554.5L55 554.6L58 554.7L61 554.8L64 555L67 555.3L70 555.6L73 555.8L76 556.1L79 556.3L82 556.6L85 556.8L88 557.1L91 557.4L94 557.6L97 557.7L100 557.7L103 557.7L106 557.8L109 557.8L112 557.8L115 557.8L118 557.8L121 557.8L124 557.8L127 557.9L130 557.9L133 557.9L136 557.9L139 557.9L142 557.9L145 557.9L148 558L151 558L154 558L157 558L160 558L163 558L166 558L169 558.1L172 558.1L175 558.1L178 558.1L181 558.1L184 558.1L187 558.1L190 558.2L193 558.2L196 558.2L199 558.2L202 558.1L205 558L208 557.9L211 557.8L214 557.6L217 557.5L220 557.4L223 557.3L226 557.2L229 557L232 556.9L235 556.8L238 556.7L241 556.6L244 556.4L247 556.3L250 556.2L253 556.1L256 556L259 555.8L262 555.7L265 555.6L268 555.5L271 555.4L274 555.2L277 555.1L280 555L283 554.9L286 554.8L289 554.6L292 554.5L295 554.4L298 554.3L301 554.1L304 553.9L307 553.7L310 553.5L313 553.3L316 553.1L319 552.9M52 572.9L55 572.8L58 572.8L61 572.6L64 572.4L67 572.1L70 571.8L73 571.6L76 571.3L79 571.1L82 570.8L85 570.6L88 570.3L91 570L94 569.8L97 569.7L100 569.7L103 569.7L106 569.6L109 569.6L112 569.6L115 569.6L118 569.6L121 569.6L124 569.6L127 569.5L130 569.5L133 569.5L136 569.5L139 569.5L142 569.5L145 569.5L148 569.4L151 569.4L154 569.4L157 569.4L160 569.4L163 569.4L166 569.4L169 569.3L172 569.3L175 569.3L178 569.3L181 569.3L184 569.3L187 569.3L190 569.2L193 569.2L196 569.2L199 569.2L202 569.3L205 569.4L208 569.5L211 569.6L214 569.8L217 569.9L220 570L223 570.1L226 570.2L229 570.4L232 570.5L235 570.6L238 570.7L241 570.8L244 571L247 571.1L250 571.2L253 571.3L256 571.4L259 571.6L262 571.7L265 571.8L268 571.9L271 572L274 572.2L277 572.3L280 572.4L283 572.5L286 572.6L289 572.8L292 572.9L295 573L298 573.1L301 573.3L304 573.5L307 573.7L310 573.9L313 574.1L316 574.3L319 574.5" stroke="#cfd7ee" stroke-width="1.2" fill="none" stroke-linejoin="round" stroke-linecap="round" opacity="1.0"/>
<path d="M150 559.1H101A6 4.6 0 0 0 101 568.3000000000001H150" stroke="#cfd7ee" stroke-width="1.3" fill="none"/>
<path d="M561 463.7C559.2 465 554.5 468.4 550 471.7C545.5 475 539.2 479.2 534 483.7C528.8 488.2 523.4 493.7 518.5 498.7C513.6 503.7 508.4 508.7 504.5 513.7C500.6 518.7 497.1 523.7 495 528.7C492.9 533.7 492.7 537.9 492 543.7C491.3 549.5 491 557 491 563.7C491 570.4 491.3 577.9 492 583.7C492.7 589.5 492.9 593.7 495 598.7C497.1 603.7 500.6 608.7 504.5 613.7C508.4 618.7 513.6 623.7 518.5 628.7C523.4 633.7 528.8 639.2 534 643.7C539.2 648.2 545.5 652.4 550 655.7C554.5 659 559.2 662.4 561 663.7" stroke="#eef6ff" stroke-width="1.3" fill="none" opacity="0.95"/>
<path d="M556 471.7C554 473.7 548 479.2 544 483.7C540 488.2 535.5 493.7 532 498.7C528.5 503.7 525.3 508.7 523 513.7C520.7 518.7 519.2 523.7 518 528.7C516.8 533.7 516.4 537.9 516 543.7C515.6 549.5 515.5 557 515.5 563.7C515.5 570.4 515.6 577.9 516 583.7C516.4 589.5 516.8 593.7 518 598.7C519.2 603.7 520.7 608.7 523 613.7C525.3 618.7 528.5 623.7 532 628.7C535.5 633.7 540 639.2 544 643.7C548 648.2 554 653.7 556 655.7" stroke="#eef6ff" stroke-width="1.3" fill="none" opacity="0.95"/>
<path d="M556 483.7C554.5 486.2 549.8 492.9 547 498.7C544.2 504.5 541 512 539 518.7C537 525.4 535.8 531.2 535 538.7C534.2 546.2 534 555.4 534 563.7C534 572 534.2 581.2 535 588.7C535.8 596.2 537 602 539 608.7C541 615.4 544.2 622.9 547 628.7C549.8 634.5 554.5 641.2 556 643.7" stroke="#eef6ff" stroke-width="1.3" fill="none" opacity="0.8"/>
<path d="M556 493.7C554.7 497 549.9 507 548 513.7C546.1 520.4 545.2 525.4 544.5 533.7C543.8 542 543.5 553.7 543.5 563.7C543.5 573.7 543.8 585.4 544.5 593.7C545.2 602 546.1 607 548 613.7C549.9 620.4 554.7 630.4 556 633.7" stroke="#eef6ff" stroke-width="1.3" fill="none" opacity="0.8"/>
<path d="M557 498.7C556.3 501.2 554.1 507.9 553 513.7C551.9 519.5 551.1 525.4 550.5 533.7C549.9 542 549.5 553.7 549.5 563.7C549.5 573.7 549.9 585.4 550.5 593.7C551.1 602 551.9 607.9 553 613.7C554.1 619.5 556.3 626.2 557 628.7" stroke="#eef6ff" stroke-width="1.3" fill="none" opacity="0.8"/>
<path d="M114 443.8L114 449.8M112.5 447.6L114 449.8L115.5 447.6M114 683.6L114 677.6M115.5 679.8L114 677.6L112.5 679.8M114 457.3L114 464.3M112.5 462.1L114 464.3L115.5 462.1M114 670.1L114 663.1M115.5 665.3L114 663.1L112.5 665.3M114 470.3L114.5 476.8M112.8 474.7L114.5 476.8L115.8 474.5M114 657.1L114.5 650.6M115.8 652.9L114.5 650.6L112.8 652.7M114 483.7L114.5 490.7M112.8 488.6L114.5 490.7L115.8 488.4M114 643.7L114.5 636.7M115.8 639L114.5 636.7L112.8 638.8M114 497L114.5 503M112.8 500.9L114.5 503L115.8 500.7M114 630.4L114.5 624.4M115.8 626.7L114.5 624.4L112.8 626.5M114 510.3L114.5 517.3M112.8 515.2L114.5 517.3L115.8 515M114 617.1L114.5 610.1M115.8 612.4L114.5 610.1L112.8 612.2M114 523.7L111 530.7M110.5 528.1L111 530.7L113.2 529.3M114 603.7L111 596.7M113.2 598.1L111 596.7L110.5 599.3M114 536.8L111 544.5M110.4 541.8L111 544.5L113.2 542.9M114 590.6L111 582.9M113.2 584.5L111 582.9L110.4 585.6M177 443.8L177.4 450.6M175.8 448.5L177.4 450.6L178.8 448.3M177 683.6L177.4 676.8M178.8 679.1L177.4 676.8L175.8 678.9M177 457.3L177.4 464.2M175.8 462.1L177.4 464.2L178.8 461.9M177 670.1L177.4 663.2M178.8 665.5L177.4 663.2L175.8 665.3M177 470.3L177.4 477.1M175.8 475L177.4 477.1L178.8 474.8M177 657.1L177.4 650.3M178.8 652.6L177.4 650.3L175.8 652.4M177 483.7L178.8 490.5M176.8 488.8L178.8 490.5L179.7 488M177 643.7L178.8 636.9M179.7 639.4L178.8 636.9L176.8 638.6M177 497L180 503.9M177.7 502.5L180 503.9L180.5 501.3M177 630.4L180 623.5M180.5 626.1L180 623.5L177.7 624.9M177 510.3L184 516.3M181.1 515.8L184 516.3L183 513.5M177 617.1L184 611.1M183 613.9L184 611.1L181.1 611.6M177 523.7L183 529.7M180.3 529.1L183 529.7L182.4 527M177 603.7L183 597.7M182.4 600.4L183 597.7L180.3 598.3M177 536.8L157 545.8M161.5 540.9L157 545.8L163.7 545.7M177 590.6L157 581.6M163.7 581.7L157 581.6L161.5 586.5M239 443.8L239.5 451.5M237.9 449.4L239.5 451.5L240.9 449.2M239 683.6L239.5 675.9M240.9 678.2L239.5 675.9L237.9 678M239 457.3L239.5 465.1M237.9 463L239.5 465.1L240.9 462.8M239 670.1L239.5 662.3M240.9 664.6L239.5 662.3L237.9 664.4M239 470.3L239 477.2M237.5 475L239 477.2L240.5 475M239 657.1L239 650.2M240.5 652.4L239 650.2L237.5 652.4M239 483.7L239.5 491.4M237.9 489.3L239.5 491.4L240.9 489.1M239 643.7L239.5 636M240.9 638.3L239.5 636L237.9 638.1M239 497L240 504.8M238.2 502.8L240 504.8L241.2 502.4M239 630.4L240 622.6M241.2 625L240 622.6L238.2 624.6M239 510.3L251 516.3M246.9 516.1L251 516.3L248.4 513.2M239 617.1L251 611.1M248.4 614.2L251 611.1L246.9 611.3M239 523.7L245 529.7M242.3 529.1L245 529.7L244.4 527M239 603.7L245 597.7M244.4 600.4L245 597.7L242.3 598.3M239 536.8L240 543.6M238.2 541.6L240 543.6L241.2 541.2M239 590.6L240 583.8M241.2 586.2L240 583.8L238.2 585.8M300 443.8L300.5 451.5M298.9 449.4L300.5 451.5L301.9 449.2M300 683.6L300.5 675.9M301.9 678.2L300.5 675.9L298.9 678M300 457.3L300.5 465M298.9 462.9L300.5 465L301.9 462.7M300 670.1L300.5 662.4M301.9 664.7L300.5 662.4L298.9 664.5M300 470.3L300.7 477.2M299 475.2L300.7 477.2L302 474.9M300 657.1L300.7 650.2M302 652.5L300.7 650.2L299 652.2M300 483.7L301 489.7M299.2 487.8L301 489.7L302.1 487.3M300 643.7L301 637.7M302.1 640.1L301 637.7L299.2 639.6M300 497L300.7 504.7M299 502.6L300.7 504.7L302 502.4M300 630.4L300.7 622.7M302 625L300.7 622.7L299 624.8M300 510.3L301.7 517.2M299.7 515.4L301.7 517.2L302.6 514.7M300 617.1L301.7 610.2M302.6 612.7L301.7 610.2L299.7 612M300 523.7L307 529.7M304.1 529.2L307 529.7L306 526.9M300 603.7L307 597.7M306 600.5L307 597.7L304.1 598.2M300 536.8L309 542.8M305.6 542.4L309 542.8L307.3 539.9M300 590.6L309 584.6M307.3 587.5L309 584.6L305.6 585M362 443.8L362.5 452.4M360.9 450.1L362.5 452.4L363.9 449.9M362 683.6L362.5 675M363.9 677.5L362.5 675L360.9 677.3M362 457.3L363.5 465.9M361.6 463.7L363.5 465.9L364.6 463.2M362 670.1L363.5 661.5M364.6 664.2L363.5 661.5L361.6 663.7M362 470.3L367 477.2M364.4 476.1L367 477.2L366.8 474.4M362 657.1L367 650.2M366.8 653L367 650.2L364.4 651.3M362 483.7L363.4 491.4M361.5 489.5L363.4 491.4L364.5 489M362 643.7L363.4 636M364.5 638.4L363.4 636L361.5 637.9M362 497L370.6 503.9M367.3 503.1L370.6 503.9L369.1 500.8M362 630.4L370.6 623.5M369.1 626.6L370.6 623.5L367.3 624.3M362 510.3L368 516.3M365.3 515.7L368 516.3L367.4 513.6M362 617.1L368 611.1M367.4 613.8L368 611.1L365.3 611.7M362 523.7L372 529.7M368.4 529.3L372 529.7L370 526.7M362 603.7L372 597.7M370 600.7L372 597.7L368.4 598.1M362 536.8L374 541.8M370 541.8L374 541.8L371.2 539M362 590.6L374 585.6M371.2 588.4L374 585.6L370 585.6M448 443.8L449 451.9M447.2 449.8L449 451.9L450.2 449.4M448 683.6L449 675.5M450.2 678L449 675.5L447.2 677.6M448 457.3L449.5 465.5M447.6 463.5L449.5 465.5L450.6 462.9M448 670.1L449.5 661.9M450.6 664.5L449.5 661.9L447.6 663.9M448 470.3L450 478.5M448 476.6L450 478.5L450.9 475.8M448 657.1L450 648.9M450.9 651.6L450 648.9L448 650.8M448 483.7L451 491.9M448.8 490.1L451 491.9L451.6 489.1M448 643.7L451 635.5M451.6 638.3L451 635.5L448.8 637.3M448 497L450 506.3M448 504L450 506.3L450.9 503.4M448 630.4L450 621.1M450.9 624L450 621.1L448 623.4M448 510.3L449 520.8M447.2 518L449 520.8L450.2 517.7M448 617.1L449 606.6M450.2 609.7L449 606.6L447.2 609.4M448 523.7L448 531.7M446.5 529.5L448 531.7L449.5 529.5M448 603.7L448 595.7M449.5 597.9L448 595.7L446.5 597.9M448 536.8L476 540.3M467.7 542.7L476 540.3L468.6 536M448 590.6L476 587.1M468.6 591.4L476 587.1L467.7 584.7M300 559.7L345 559.7M332.4 565.1L345 559.7L332.4 554.3M300 567.7L345 567.7M332.4 573.1L345 567.7L332.4 562.3M448 556.2L510 556.2M492.6 563.6L510 556.2L492.6 548.8M448 571.2L510 571.2M492.6 578.6L510 571.2L492.6 563.8M448 571.2L510 571.2M492.6 578.6L510 571.2L492.6 563.8M448 556.2L510 556.2M492.6 563.6L510 556.2L492.6 548.8" stroke="#f4f6ff" stroke-width="1.2" fill="none" stroke-linejoin="round" stroke-linecap="round"/>
<path d="M398 549.7L412 558.7L400 563.7L412 568.7L398 577.7M328 556.7L347 563.7L328 570.7" stroke="#eef2ff" stroke-width="1.1" fill="none"/>
</g>
<path d="M556 431h-10M556 437.6h-5.5M556 444.2h-5.5M556 450.8h-5.5M556 457.4h-5.5M556 464h-10M556 470.6h-5.5M556 477.2h-5.5M556 483.8h-5.5M556 490.4h-5.5M556 497h-10M556 503.6h-5.5M556 510.2h-5.5M556 516.8h-5.5M556 523.4h-5.5M556 530h-10M556 536.6h-5.5M556 543.2h-5.5M556 549.8h-5.5M556 556.4h-5.5M556 563h-10M556 569.6h-5.5M556 576.2h-5.5M556 582.8h-5.5M556 589.4h-5.5M556 596h-10M556 602.6h-5.5M556 609.2h-5.5M556 615.8h-5.5M556 622.4h-5.5M556 629h-10M556 635.6h-5.5M556 642.2h-5.5M556 648.8h-5.5M556 655.4h-5.5M556 662h-10M556 668.6h-5.5M556 675.2h-5.5M556 681.8h-5.5M556 688.4h-5.5M556 695h-10" stroke="#23303e" stroke-width="1" opacity="0.6"/>
<rect x="52" y="431" width="504" height="265.5" fill="none" stroke="#2a3a50" stroke-width="1"/>
<path d="M405.5 50.9H467M450 43.2L467.3 50.9L450 58.3" stroke="#000" stroke-width="1.3" fill="none"/>
<text x="487.5" y="59.5" font-size="21" text-anchor="start" style=""  stroke="#000" stroke-width="0.35">=</text>
<text x="503.5" y="59.5" font-size="23" text-anchor="start" style="font-style:italic;"  stroke="#000" stroke-width="0.55">5.</text>
<path d="M405.5 416.3H467M450 408.6L467.3 416.3L450 423.7" stroke="#000" stroke-width="1.3" fill="none"/>
<text x="487.5" y="424.9" font-size="21" text-anchor="start" style=""  stroke="#000" stroke-width="0.35">=</text>
<text x="503.5" y="424.9" font-size="23" text-anchor="start" style="font-style:italic;"  stroke="#000" stroke-width="0.55">5.</text>
<text x="55" y="417.7" font-size="25.5" text-anchor="start" style=""  stroke="#000" stroke-width="0.35">with conduction</text>
<text x="47" y="83.2" font-size="25" text-anchor="end" style="font-style:italic;"  stroke="#000" stroke-width="0.55">2</text>
<text x="47" y="142.7" font-size="25" text-anchor="end" style="font-style:italic;"  stroke="#000" stroke-width="0.55">1</text>
<text x="47" y="209.8" font-size="25" text-anchor="end" style="font-style:italic;"  stroke="#000" stroke-width="0.55">0</text>
<text x="47" y="275.2" font-size="25" text-anchor="end" style="font-style:italic;"  stroke="#000" stroke-width="0.55">-1</text>
<text x="47" y="332.6" font-size="25" text-anchor="end" style="font-style:italic;"  stroke="#000" stroke-width="0.55">-2</text>
<text x="0" y="0" font-size="25" style="font-style:italic" transform="translate(14.5 205) rotate(-90)">z</text>
<text x="47" y="448.2" font-size="25" text-anchor="end" style="font-style:italic;"  stroke="#000" stroke-width="0.55">2</text>
<text x="47" y="507.7" font-size="25" text-anchor="end" style="font-style:italic;"  stroke="#000" stroke-width="0.55">1</text>
<text x="47" y="574.8" font-size="25" text-anchor="end" style="font-style:italic;"  stroke="#000" stroke-width="0.55">0</text>
<text x="47" y="640.2" font-size="25" text-anchor="end" style="font-style:italic;"  stroke="#000" stroke-width="0.55">-1</text>
<text x="47" y="697.6" font-size="25" text-anchor="end" style="font-style:italic;"  stroke="#000" stroke-width="0.55">-2</text>
<text x="0" y="0" font-size="25" style="font-style:italic" transform="translate(14.5 570) rotate(-90)">z</text>
<text x="55" y="358" font-size="25" text-anchor="middle" style="font-style:italic;"  stroke="#000" stroke-width="0.55">0</text>
<text x="178" y="358" font-size="25" text-anchor="middle" style="font-style:italic;"  stroke="#000" stroke-width="0.55">2</text>
<text x="301.6" y="358" font-size="25" text-anchor="middle" style="font-style:italic;"  stroke="#000" stroke-width="0.55">4</text>
<text x="425.5" y="358" font-size="25" text-anchor="middle" style="font-style:italic;"  stroke="#000" stroke-width="0.55">6</text>
<text x="549.7" y="358" font-size="25" text-anchor="middle" style="font-style:italic;"  stroke="#000" stroke-width="0.55">8</text>
<text x="55" y="728.5" font-size="25" text-anchor="middle" style="font-style:italic;"  stroke="#000" stroke-width="0.55">0</text>
<text x="178" y="728.5" font-size="25" text-anchor="middle" style="font-style:italic;"  stroke="#000" stroke-width="0.55">2</text>
<text x="301.6" y="728.5" font-size="25" text-anchor="middle" style="font-style:italic;"  stroke="#000" stroke-width="0.55">4</text>
<text x="425.5" y="728.5" font-size="25" text-anchor="middle" style="font-style:italic;"  stroke="#000" stroke-width="0.55">6</text>
<text x="549.7" y="728.5" font-size="25" text-anchor="middle" style="font-style:italic;"  stroke="#000" stroke-width="0.55">8</text>
<text x="305" y="380.4" font-size="25" text-anchor="middle" style="font-style:italic;"  stroke="#000" stroke-width="0.55">x</text>
<text x="305" y="757.5" font-size="25" text-anchor="middle" style="font-style:italic;"  stroke="#000" stroke-width="0.55">x</text>
<rect x="585.5" y="415.5" width="13" height="20.0" fill="#eca83c"/>
<rect x="585.5" y="435.5" width="13" height="14.1" fill="#f2c43c"/>
<rect x="585.5" y="449.6" width="13" height="65.4" fill="#f9e23a"/>
<rect x="585.5" y="515.0" width="13" height="14.0" fill="#e4d846"/>
<rect x="585.5" y="529.0" width="13" height="24.2" fill="#2f9e5c"/>
<rect x="585.5" y="553.2" width="13" height="58.8" fill="#34ade0"/>
<rect x="585.5" y="612.0" width="13" height="20.0" fill="#3590cc"/>
<rect x="585.5" y="632.0" width="13" height="40.0" fill="#3466a0"/>
<rect x="585.5" y="672.0" width="13" height="38.5" fill="#315d95"/>
<rect x="585.7" y="415.7" width="12.6" height="294.6" fill="none" stroke="#7a6a50" stroke-width="0.8"/>
<text x="582.5" y="444.8" font-size="21" text-anchor="end" style="font-style:italic;"  stroke="#000" stroke-width="0.55">14</text>
<text x="582.5" y="484.4" font-size="21" text-anchor="end" style="font-style:italic;"  stroke="#000" stroke-width="0.55">12</text>
<text x="582.5" y="523" font-size="21" text-anchor="end" style="font-style:italic;"  stroke="#000" stroke-width="0.55">10</text>
<text x="582.5" y="562.4" font-size="21" text-anchor="end" style="font-style:italic;"  stroke="#000" stroke-width="0.55">8</text>
<text x="582.5" y="601.3" font-size="21" text-anchor="end" style="font-style:italic;"  stroke="#000" stroke-width="0.55">6</text>
<text x="582.5" y="639.8" font-size="21" text-anchor="end" style="font-style:italic;"  stroke="#000" stroke-width="0.55">4</text>
<text x="582.5" y="678.7" font-size="21" text-anchor="end" style="font-style:italic;"  stroke="#000" stroke-width="0.55">2</text>
<text x="582.5" y="711" font-size="21" text-anchor="end" style="font-style:italic;"  stroke="#000" stroke-width="0.55">0</text>
</svg></body></html>
